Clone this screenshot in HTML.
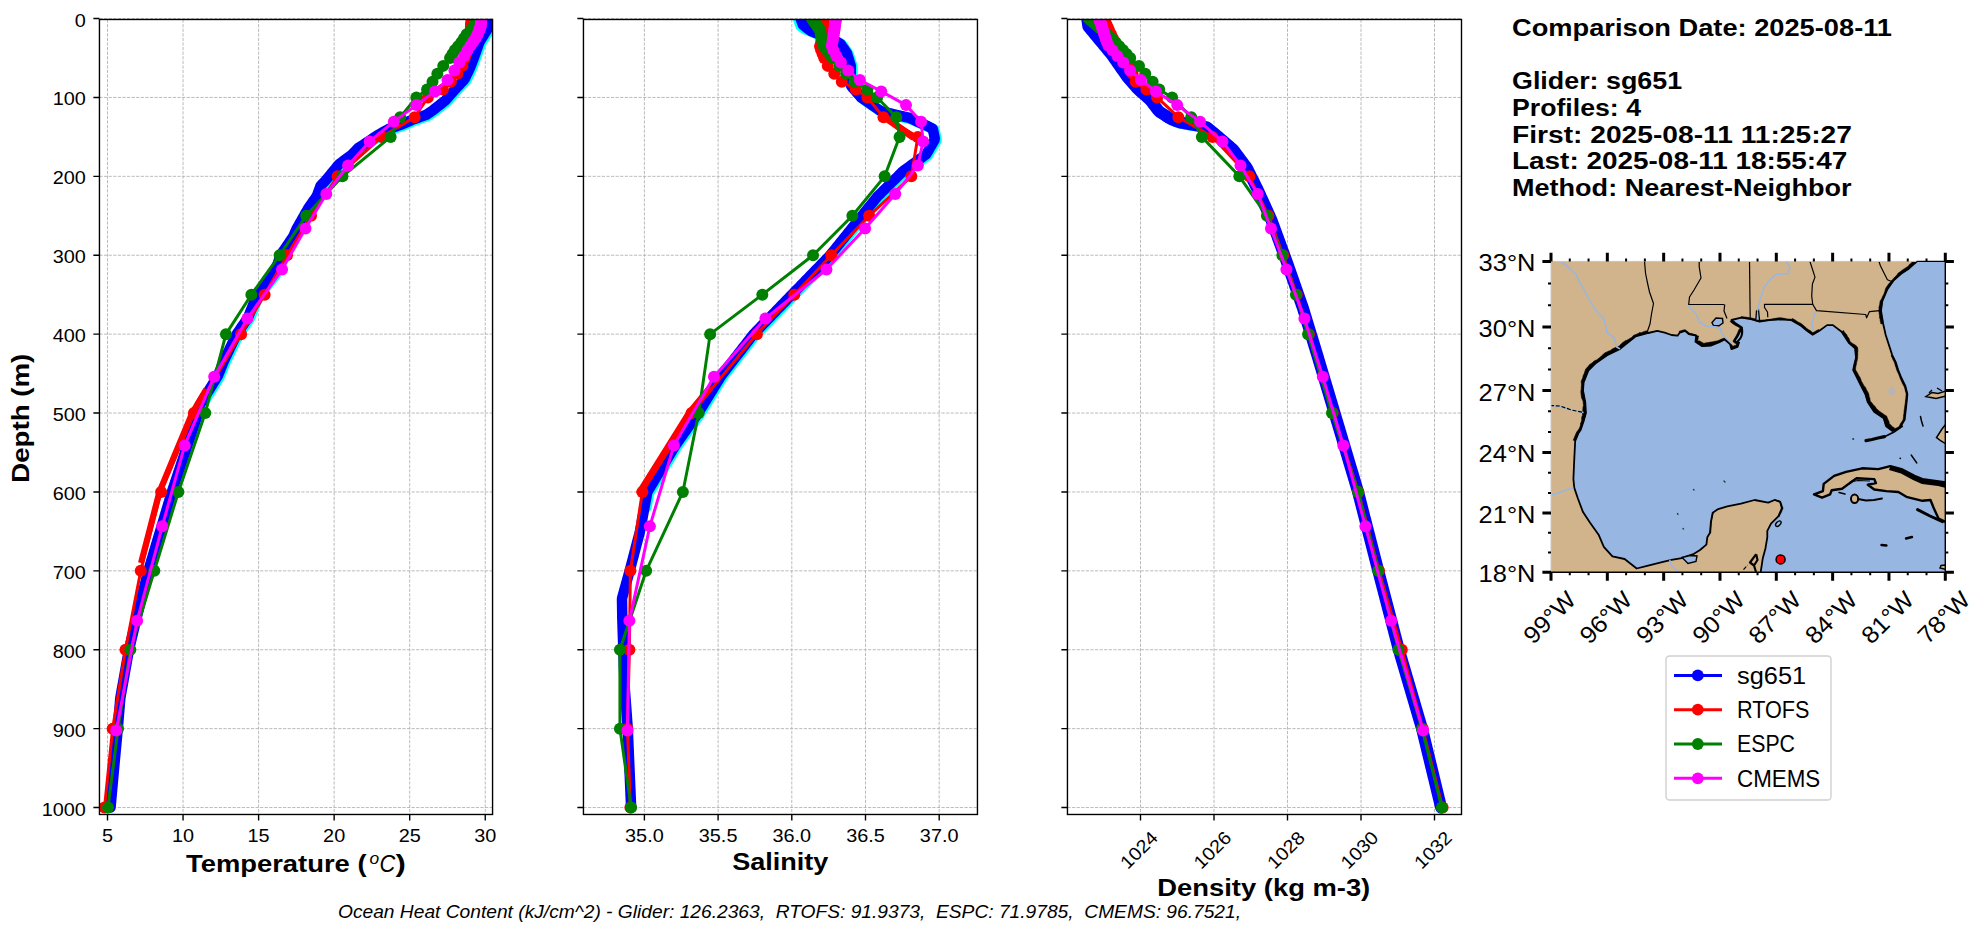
<!DOCTYPE html><html><head><meta charset="utf-8"><style>html,body{margin:0;padding:0;background:#fff;overflow:hidden}svg{display:block}text{font-family:"Liberation Sans",sans-serif}</style></head><body>
<svg width="1987" height="934" viewBox="0 0 1987 934">
<rect width="1987" height="934" fill="#fff"/>
<defs><clipPath id="clip0"><rect x="99.45" y="19.48" width="393.11" height="795.00"/></clipPath><clipPath id="clip1"><rect x="583.45" y="19.48" width="394.00" height="795.00"/></clipPath><clipPath id="clip2"><rect x="1067.45" y="19.48" width="394.05" height="795.00"/></clipPath></defs>
<path d="M99.45 18.54H492.56 M99.45 97.44H492.56 M99.45 176.34H492.56 M99.45 255.24H492.56 M99.45 334.14H492.56 M99.45 413.04H492.56 M99.45 491.94H492.56 M99.45 570.84H492.56 M99.45 649.74H492.56 M99.45 728.64H492.56 M99.45 807.54H492.56 M107.50 19.48V814.48 M183.05 19.48V814.48 M258.60 19.48V814.48 M334.15 19.48V814.48 M409.70 19.48V814.48 M485.25 19.48V814.48" stroke="#b0b0b0" stroke-width="0.87" stroke-dasharray="3.2 1.39" fill="none"/>
<path d="M583.45 18.54H977.45 M583.45 97.44H977.45 M583.45 176.34H977.45 M583.45 255.24H977.45 M583.45 334.14H977.45 M583.45 413.04H977.45 M583.45 491.94H977.45 M583.45 570.84H977.45 M583.45 649.74H977.45 M583.45 728.64H977.45 M583.45 807.54H977.45 M644.40 19.48V814.48 M718.10 19.48V814.48 M791.80 19.48V814.48 M865.50 19.48V814.48 M939.20 19.48V814.48" stroke="#b0b0b0" stroke-width="0.87" stroke-dasharray="3.2 1.39" fill="none"/>
<path d="M1067.45 18.54H1461.50 M1067.45 97.44H1461.50 M1067.45 176.34H1461.50 M1067.45 255.24H1461.50 M1067.45 334.14H1461.50 M1067.45 413.04H1461.50 M1067.45 491.94H1461.50 M1067.45 570.84H1461.50 M1067.45 649.74H1461.50 M1067.45 728.64H1461.50 M1067.45 807.54H1461.50 M1140.50 19.48V814.48 M1214.00 19.48V814.48 M1287.50 19.48V814.48 M1361.00 19.48V814.48 M1434.50 19.48V814.48" stroke="#b0b0b0" stroke-width="0.87" stroke-dasharray="3.2 1.39" fill="none"/>
<g clip-path="url(#clip0)">
<path d="M490.07 19.54 L489.93 21.12 L489.80 22.70 L489.66 24.27 L489.52 25.85 L489.38 27.43 L489.24 29.01 L488.67 30.59 L487.68 32.16 L486.70 33.74 L485.71 35.32 L484.72 36.90 L483.73 38.48 L482.74 40.05 L481.75 41.63 L480.87 43.21 L480.31 44.79 L479.75 46.37 L479.19 47.94 L478.63 49.52 L478.07 51.10 L477.51 52.68 L476.95 54.26 L476.39 55.83 L475.83 57.41 L475.27 58.99 L474.66 60.57 L474.06 62.15 L473.45 63.72 L472.85 65.30 L472.24 66.88 L471.64 68.46 L470.96 70.04 L470.20 71.61 L469.45 73.19 L468.69 74.77 L467.94 76.35 L467.18 77.93 L466.43 79.50 L465.31 81.08 L463.82 82.66 L462.33 84.24 L460.84 85.82 L459.35 87.39 L457.87 88.97 L456.38 90.55 L455.00 92.13 L453.62 93.71 L452.23 95.28 L450.85 96.86 L449.47 98.44 L448.09 100.02 L446.71 101.60 L444.69 103.17 L442.66 104.75 L440.64 106.33 L438.62 107.91 L436.60 109.49 L434.58 111.06 L432.49 112.64 L430.16 114.22 L427.82 115.80 L423.29 117.38 L418.75 118.95 L414.22 120.53 L410.70 122.11 L407.17 123.69 L403.64 125.27 L399.11 126.84 L394.58 128.42 L390.05 130.00 L387.23 131.58 L384.40 133.16 L381.58 134.73 L378.88 136.31 L376.52 137.89 L374.16 139.47 L371.80 141.05 L369.44 142.62 L367.08 144.20 L364.66 145.78 L362.24 147.36 L359.83 148.94 L358.31 150.51 L356.80 152.09 L355.29 153.67 L353.78 155.25 L351.69 156.83 L349.60 158.40 L347.51 159.98 L345.41 161.56 L343.32 163.14 L341.23 164.72 L339.54 166.29 L338.26 167.87 L336.97 169.45 L335.69 171.03 L334.40 172.61 L333.12 174.18 L331.83 175.76 L330.55 177.34 L329.27 178.92 L327.98 180.50 L326.58 182.07 L325.07 183.65 L323.56 185.23 L322.05 186.81 L321.47 188.39 L320.89 189.96 L320.31 191.54 L319.73 193.12 L319.15 194.70 L318.56 196.28 L317.72 197.85 L316.61 199.43 L315.50 201.01 L314.40 202.59 L313.29 204.17 L312.18 205.74 L311.07 207.32 L309.96 208.90 L309.07 210.48 L308.17 212.06 L307.28 213.63 L306.38 215.21 L305.49 216.79 L304.59 218.37 L303.70 219.95 L302.80 221.52 L301.90 223.10 L301.01 224.68 L300.11 226.26 L299.22 227.84 L298.32 229.41 L297.54 230.99 L296.87 232.57 L296.20 234.15 L295.52 235.73 L294.85 237.30 L293.78 238.88 L292.71 240.46 L291.64 242.04 L290.57 243.62 L289.50 245.19 L288.43 246.77 L287.36 248.35 L286.29 249.93 L285.22 251.51 L284.15 253.08 L283.08 254.66 L282.01 256.24 L281.48 257.82 L280.96 259.40 L280.43 260.97 L279.91 262.55 L279.38 264.13 L278.86 265.71 L278.33 267.29 L277.80 268.86 L277.28 270.44 L276.75 272.02 L276.23 273.60 L275.32 275.18 L274.03 276.75 L272.75 278.33 L271.46 279.91 L270.17 281.49 L268.89 283.07 L267.60 284.64 L266.31 286.22 L265.02 287.80 L263.74 289.38 L262.45 290.96 L261.16 292.53 L259.88 294.11 L258.59 295.69 L257.96 297.27 L257.34 298.85 L256.71 300.42 L256.09 302.00 L255.46 303.58 L254.84 305.16 L254.21 306.74 L253.59 308.31 L252.96 309.89 L252.34 311.47 L251.71 313.05 L251.09 314.63 L250.46 316.20 L249.84 317.78 L248.98 319.36 L247.90 320.94 L246.82 322.52 L245.75 324.09 L244.67 325.67 L243.59 327.25 L242.51 328.83 L241.43 330.41 L240.35 331.98 L239.27 333.56 L238.19 335.14 L237.44 336.72 L236.68 338.30 L235.92 339.87 L235.17 341.45 L234.41 343.03 L233.66 344.61 L232.90 346.19 L232.15 347.76 L231.39 349.34 L230.64 350.92 L229.88 352.50 L229.12 354.08 L228.37 355.65 L227.61 357.23 L226.86 358.81 L226.10 360.39 L225.35 361.97 L224.71 363.54 L224.07 365.12 L223.44 366.70 L222.80 368.28 L222.17 369.86 L221.53 371.43 L220.89 373.01 L220.26 374.59 L219.62 376.17 L218.81 377.75 L217.83 379.32 L216.85 380.90 L215.87 382.48 L214.89 384.06 L213.91 385.64 L212.93 387.21 L211.95 388.79 L210.97 390.37 L209.99 391.95 L209.01 393.53 L208.03 395.10 L207.05 396.68 L206.07 398.26 L205.09 399.84 L204.11 401.42 L203.13 402.99 L202.15 404.57 L201.17 406.15 L200.87 407.73 L200.57 409.31 L200.26 410.88 L199.96 412.46 L199.66 414.04 L199.13 415.62 L198.61 417.20 L198.08 418.77 L197.56 420.35 L197.03 421.93 L196.51 423.51 L195.98 425.09 L195.45 426.66 L194.93 428.24 L194.40 429.82 L193.88 431.40 L193.35 432.98 L192.82 434.55 L192.30 436.13 L191.77 437.71 L191.25 439.29 L190.72 440.87 L190.20 442.44 L189.67 444.02 L189.14 445.60 L188.62 447.18 L188.09 448.76 L187.57 450.33 L187.04 451.91 L186.51 453.49 L185.99 455.07 L185.46 456.65 L184.94 458.22 L184.41 459.80 L183.89 461.38 L183.36 462.96 L182.83 464.54 L182.31 466.11 L181.78 467.69 L181.26 469.27 L180.73 470.85 L180.20 472.43 L179.68 474.00 L179.15 475.58 L178.63 477.16 L178.10 478.74 L177.58 480.32 L177.05 481.89 L176.52 483.47 L176.00 485.05 L175.47 486.63 L174.95 488.21 L174.42 489.78 L173.89 491.36 L173.37 492.94 L172.90 494.52 L172.43 496.10 L171.95 497.67 L171.48 499.25 L171.01 500.83 L170.54 502.41 L170.07 503.99 L169.60 505.56 L169.13 507.14" stroke="#00ffff" stroke-width="11" fill="none" stroke-linejoin="round" stroke-linecap="round"/>
<path d="M488.57 18.54 L488.43 20.12 L488.30 21.70 L488.16 23.27 L488.02 24.85 L487.88 26.43 L487.74 28.01 L487.17 29.59 L486.18 31.16 L485.20 32.74 L484.21 34.32 L483.22 35.90 L482.23 37.48 L481.24 39.05 L480.25 40.63 L479.37 42.21 L478.81 43.79 L478.25 45.37 L477.69 46.94 L477.13 48.52 L476.57 50.10 L476.01 51.68 L475.45 53.26 L474.89 54.83 L474.33 56.41 L473.77 57.99 L473.16 59.57 L472.56 61.15 L471.95 62.72 L471.35 64.30 L470.74 65.88 L470.14 67.46 L469.46 69.04 L468.70 70.61 L467.95 72.19 L467.19 73.77 L466.44 75.35 L465.68 76.93 L464.93 78.50 L463.81 80.08 L462.32 81.66 L460.83 83.24 L459.34 84.82 L457.85 86.39 L456.37 87.97 L454.88 89.55 L453.50 91.13 L452.12 92.71 L450.73 94.28 L449.35 95.86 L447.97 97.44 L446.59 99.02 L445.21 100.60 L443.19 102.17 L441.16 103.75 L439.14 105.33 L437.12 106.91 L435.10 108.49 L433.08 110.06 L430.99 111.64 L428.66 113.22 L426.32 114.80 L421.79 116.38 L417.25 117.95 L412.72 119.53 L409.20 121.11 L405.67 122.69 L402.14 124.27 L397.61 125.84 L393.08 127.42 L388.55 129.00 L385.73 130.58 L382.90 132.16 L380.08 133.73 L377.38 135.31 L375.02 136.89 L372.66 138.47 L370.30 140.05 L367.94 141.62 L365.58 143.20 L363.16 144.78 L360.74 146.36 L358.33 147.94 L356.81 149.51 L355.30 151.09 L353.79 152.67 L352.28 154.25 L350.19 155.83 L348.10 157.40 L346.01 158.98 L343.91 160.56 L341.82 162.14 L339.73 163.72 L338.04 165.29 L336.76 166.87 L335.47 168.45 L334.19 170.03 L332.90 171.61 L331.62 173.18 L330.33 174.76 L329.05 176.34 L327.77 177.92 L326.48 179.50 L325.08 181.07 L323.57 182.65 L322.06 184.23 L320.55 185.81 L319.97 187.39 L319.39 188.96 L318.81 190.54 L318.23 192.12 L317.65 193.70 L317.06 195.28 L316.22 196.85 L315.11 198.43 L314.00 200.01 L312.90 201.59 L311.79 203.17 L310.68 204.74 L309.57 206.32 L308.46 207.90 L307.57 209.48 L306.67 211.06 L305.78 212.63 L304.88 214.21 L303.99 215.79 L303.09 217.37 L302.20 218.95 L301.30 220.52 L300.40 222.10 L299.51 223.68 L298.61 225.26 L297.72 226.84 L296.82 228.41 L296.04 229.99 L295.37 231.57 L294.70 233.15 L294.02 234.73 L293.35 236.30 L292.28 237.88 L291.21 239.46 L290.14 241.04 L289.07 242.62 L288.00 244.19 L286.93 245.77 L285.86 247.35 L284.79 248.93 L283.72 250.51 L282.65 252.08 L281.58 253.66 L280.51 255.24 L279.98 256.82 L279.46 258.40 L278.93 259.97 L278.41 261.55 L277.88 263.13 L277.36 264.71 L276.83 266.29 L276.30 267.86 L275.78 269.44 L275.25 271.02 L274.73 272.60 L273.82 274.18 L272.53 275.75 L271.25 277.33 L269.96 278.91 L268.67 280.49 L267.39 282.07 L266.10 283.64 L264.81 285.22 L263.52 286.80 L262.24 288.38 L260.95 289.96 L259.66 291.53 L258.38 293.11 L257.09 294.69 L256.46 296.27 L255.84 297.85 L255.21 299.42 L254.59 301.00 L253.96 302.58 L253.34 304.16 L252.71 305.74 L252.09 307.31 L251.46 308.89 L250.84 310.47 L250.21 312.05 L249.59 313.63 L248.96 315.20 L248.34 316.78 L247.48 318.36 L246.40 319.94 L245.32 321.52 L244.25 323.09 L243.17 324.67 L242.09 326.25 L241.01 327.83 L239.93 329.41 L238.85 330.98 L237.77 332.56 L236.69 334.14 L235.94 335.72 L235.18 337.30 L234.42 338.87 L233.67 340.45 L232.91 342.03 L232.16 343.61 L231.40 345.19 L230.65 346.76 L229.89 348.34 L229.14 349.92 L228.38 351.50 L227.62 353.08 L226.87 354.65 L226.11 356.23 L225.36 357.81 L224.60 359.39 L223.85 360.97 L223.21 362.54 L222.57 364.12 L221.94 365.70 L221.30 367.28 L220.67 368.86 L220.03 370.43 L219.39 372.01 L218.76 373.59 L218.12 375.17 L217.31 376.75 L216.33 378.32 L215.35 379.90 L214.37 381.48 L213.39 383.06 L212.41 384.64 L211.43 386.21 L210.45 387.79 L209.47 389.37 L208.49 390.95 L207.51 392.53 L206.53 394.10 L205.55 395.68 L204.57 397.26 L203.59 398.84 L202.61 400.42 L201.63 401.99 L200.65 403.57 L199.67 405.15 L199.37 406.73 L199.07 408.31 L198.76 409.88 L198.46 411.46 L198.16 413.04 L197.63 414.62 L197.11 416.20 L196.58 417.77 L196.06 419.35 L195.53 420.93 L195.01 422.51 L194.48 424.09 L193.95 425.66 L193.43 427.24 L192.90 428.82 L192.38 430.40 L191.85 431.98 L191.32 433.55 L190.80 435.13 L190.27 436.71 L189.75 438.29 L189.22 439.87 L188.70 441.44 L188.17 443.02 L187.64 444.60 L187.12 446.18 L186.59 447.76 L186.07 449.33 L185.54 450.91 L185.01 452.49 L184.49 454.07 L183.96 455.65 L183.44 457.22 L182.91 458.80 L182.39 460.38 L181.86 461.96 L181.33 463.54 L180.81 465.11 L180.28 466.69 L179.76 468.27 L179.23 469.85 L178.70 471.43 L178.18 473.00 L177.65 474.58 L177.13 476.16 L176.60 477.74 L176.08 479.32 L175.55 480.89 L175.02 482.47 L174.50 484.05 L173.97 485.63 L173.45 487.21 L172.92 488.78 L172.39 490.36 L171.87 491.94 L171.40 493.52 L170.93 495.10 L170.45 496.67 L169.98 498.25 L169.51 499.83 L169.04 501.41 L168.57 502.99 L168.10 504.56 L167.63 506.14 L167.15 507.72 L166.68 509.30 L166.21 510.88 L165.74 512.45 L165.27 514.03 L164.80 515.61 L164.33 517.19 L163.85 518.77 L163.38 520.34 L162.91 521.92 L162.44 523.50 L161.97 525.08 L161.50 526.66 L161.03 528.23 L160.55 529.81 L160.08 531.39 L159.61 532.97 L159.14 534.55 L158.67 536.12 L158.20 537.70 L157.73 539.28 L157.25 540.86 L156.78 542.44 L156.31 544.01 L155.84 545.59 L155.37 547.17 L154.90 548.75 L154.43 550.33 L153.95 551.90 L153.48 553.48 L153.01 555.06 L152.54 556.64 L152.07 558.22 L151.60 559.79 L151.13 561.37 L150.65 562.95 L150.18 564.53 L149.71 566.11 L149.24 567.68 L148.77 569.26 L148.30 570.84 L147.90 572.42 L147.51 574.00 L147.12 575.57 L146.73 577.15 L146.33 578.73 L145.94 580.31 L145.55 581.89 L145.15 583.46 L144.76 585.04 L144.37 586.62 L143.98 588.20 L143.58 589.78 L143.19 591.35 L142.80 592.93 L142.40 594.51 L142.01 596.09 L141.62 597.67 L141.23 599.24 L140.83 600.82 L140.44 602.40 L140.05 603.98 L139.65 605.56 L139.26 607.13 L138.87 608.71 L138.48 610.29 L138.08 611.87 L137.69 613.45 L137.30 615.02 L136.90 616.60 L136.51 618.18 L136.13 619.76 L135.76 621.34 L135.38 622.91 L135.00 624.49 L134.62 626.07 L134.24 627.65 L133.87 629.23 L133.49 630.80 L133.11 632.38 L132.73 633.96 L132.36 635.54 L131.98 637.12 L131.60 638.69 L131.22 640.27 L130.84 641.85 L130.47 643.43 L130.09 645.01 L129.71 646.58 L129.33 648.16 L128.96 649.74 L128.67 651.32 L128.39 652.90 L128.11 654.47 L127.83 656.05 L127.54 657.63 L127.26 659.21 L126.98 660.79 L126.70 662.36 L126.41 663.94 L126.13 665.52 L125.85 667.10 L125.57 668.68 L125.29 670.25 L125.00 671.83 L124.72 673.41 L124.44 674.99 L124.16 676.57 L123.87 678.14 L123.59 679.72 L123.31 681.30 L123.03 682.88 L122.74 684.46 L122.46 686.03 L122.18 687.61 L121.90 689.19 L121.61 690.77 L121.33 692.35 L121.05 693.92 L120.77 695.50 L120.48 697.08 L120.28 698.66 L120.15 700.24 L120.01 701.81 L119.88 703.39 L119.75 704.97 L119.62 706.55 L119.49 708.13 L119.36 709.70 L119.22 711.28 L119.09 712.86 L118.96 714.44 L118.83 716.02 L118.70 717.59 L118.57 719.17 L118.43 720.75 L118.30 722.33 L118.17 723.91 L118.04 725.48 L117.91 727.06 L117.77 728.64 L117.63 730.22 L117.48 731.80 L117.33 733.37 L117.18 734.95 L117.04 736.53 L116.89 738.11 L116.74 739.69 L116.59 741.26 L116.44 742.84 L116.30 744.42 L116.15 746.00 L116.00 747.58 L115.85 749.15 L115.70 750.73 L115.56 752.31 L115.41 753.89 L115.26 755.47 L115.11 757.04 L114.96 758.62 L114.82 760.20 L114.67 761.78 L114.52 763.36 L114.37 764.93 L114.23 766.51 L114.09 768.09 L113.94 769.67 L113.80 771.25 L113.66 772.82 L113.52 774.40 L113.37 775.98 L113.23 777.56 L113.09 779.14 L112.95 780.71 L112.80 782.29 L112.66 783.87 L112.52 785.45 L112.38 787.03 L112.23 788.60 L112.09 790.18 L111.95 791.76 L111.80 793.34 L111.66 794.92 L111.52 796.49 L111.38 798.07 L111.23 799.65 L111.09 801.23 L110.95 802.81 L110.81 804.38 L110.66 805.96 L110.52 807.54" stroke="#0000ff" stroke-width="10.5" fill="none" stroke-linejoin="round" stroke-linecap="round"/>
<path d="M206.26 389.37 L192.12 413.04 L175.72 452.49 L159.33 491.94 L149.13 531.39 L140.97 562.95" stroke="#ff0000" stroke-width="6" fill="none" stroke-linejoin="round"/>
<path d="M471.80 18.54 L471.64 20.12 L471.47 21.70 L471.30 23.27 L471.14 24.85 L470.97 26.43 L470.80 28.01 L470.56 30.38 L470.14 34.32 L469.38 38.27 L468.63 42.21 L467.87 46.16 L467.12 50.10 L465.95 54.05 L464.78 57.99 L462.43 65.88 L457.40 73.77 L450.90 81.66 L442.94 89.55 L427.83 97.44 L414.69 117.16 L381.75 136.89 L337.63 176.34 L311.03 215.79 L287.01 255.24 L264.64 294.69 L241.07 334.14 L193.93 413.04 L161.14 491.94 L140.74 570.84 L125.48 649.74 L112.64 728.64 L104.48 807.54" stroke="#ff0000" stroke-width="3.0" fill="none" stroke-linejoin="round"/>
<circle cx="471.80" cy="18.54" r="6.0" fill="#ff0000"/><circle cx="471.64" cy="20.12" r="6.0" fill="#ff0000"/><circle cx="471.47" cy="21.70" r="6.0" fill="#ff0000"/><circle cx="471.30" cy="23.27" r="6.0" fill="#ff0000"/><circle cx="471.14" cy="24.85" r="6.0" fill="#ff0000"/><circle cx="470.97" cy="26.43" r="6.0" fill="#ff0000"/><circle cx="470.80" cy="28.01" r="6.0" fill="#ff0000"/><circle cx="470.56" cy="30.38" r="6.0" fill="#ff0000"/><circle cx="470.14" cy="34.32" r="6.0" fill="#ff0000"/><circle cx="469.38" cy="38.27" r="6.0" fill="#ff0000"/><circle cx="468.63" cy="42.21" r="6.0" fill="#ff0000"/><circle cx="467.87" cy="46.16" r="6.0" fill="#ff0000"/><circle cx="467.12" cy="50.10" r="6.0" fill="#ff0000"/><circle cx="465.95" cy="54.05" r="6.0" fill="#ff0000"/><circle cx="464.78" cy="57.99" r="6.0" fill="#ff0000"/><circle cx="462.43" cy="65.88" r="6.0" fill="#ff0000"/><circle cx="457.40" cy="73.77" r="6.0" fill="#ff0000"/><circle cx="450.90" cy="81.66" r="6.0" fill="#ff0000"/><circle cx="442.94" cy="89.55" r="6.0" fill="#ff0000"/><circle cx="427.83" cy="97.44" r="6.0" fill="#ff0000"/><circle cx="414.69" cy="117.16" r="6.0" fill="#ff0000"/><circle cx="381.75" cy="136.89" r="6.0" fill="#ff0000"/><circle cx="337.63" cy="176.34" r="6.0" fill="#ff0000"/><circle cx="311.03" cy="215.79" r="6.0" fill="#ff0000"/><circle cx="287.01" cy="255.24" r="6.0" fill="#ff0000"/><circle cx="264.64" cy="294.69" r="6.0" fill="#ff0000"/><circle cx="241.07" cy="334.14" r="6.0" fill="#ff0000"/><circle cx="193.93" cy="413.04" r="6.0" fill="#ff0000"/><circle cx="161.14" cy="491.94" r="6.0" fill="#ff0000"/><circle cx="140.74" cy="570.84" r="6.0" fill="#ff0000"/><circle cx="125.48" cy="649.74" r="6.0" fill="#ff0000"/><circle cx="112.64" cy="728.64" r="6.0" fill="#ff0000"/><circle cx="104.48" cy="807.54" r="6.0" fill="#ff0000"/>
<path d="M476.94 18.54 L476.56 20.12 L476.18 21.70 L475.81 23.27 L475.43 24.85 L474.13 26.43 L472.84 28.01 L470.90 30.38 L466.66 34.32 L464.02 38.27 L461.38 42.21 L458.13 46.16 L454.88 50.10 L452.46 54.05 L450.04 57.99 L443.24 65.88 L437.35 73.77 L432.52 81.66 L427.08 89.55 L416.35 97.44 L400.18 117.16 L390.66 136.89 L342.46 176.34 L306.20 215.79 L279.60 255.24 L251.35 294.69 L225.96 334.14 L205.26 413.04 L178.37 491.94 L154.34 570.84 L130.32 649.74 L118.08 728.64 L107.95 807.54" stroke="#008000" stroke-width="3.0" fill="none" stroke-linejoin="round"/>
<circle cx="476.94" cy="18.54" r="6.0" fill="#008000"/><circle cx="476.56" cy="20.12" r="6.0" fill="#008000"/><circle cx="476.18" cy="21.70" r="6.0" fill="#008000"/><circle cx="475.81" cy="23.27" r="6.0" fill="#008000"/><circle cx="475.43" cy="24.85" r="6.0" fill="#008000"/><circle cx="474.13" cy="26.43" r="6.0" fill="#008000"/><circle cx="472.84" cy="28.01" r="6.0" fill="#008000"/><circle cx="470.90" cy="30.38" r="6.0" fill="#008000"/><circle cx="466.66" cy="34.32" r="6.0" fill="#008000"/><circle cx="464.02" cy="38.27" r="6.0" fill="#008000"/><circle cx="461.38" cy="42.21" r="6.0" fill="#008000"/><circle cx="458.13" cy="46.16" r="6.0" fill="#008000"/><circle cx="454.88" cy="50.10" r="6.0" fill="#008000"/><circle cx="452.46" cy="54.05" r="6.0" fill="#008000"/><circle cx="450.04" cy="57.99" r="6.0" fill="#008000"/><circle cx="443.24" cy="65.88" r="6.0" fill="#008000"/><circle cx="437.35" cy="73.77" r="6.0" fill="#008000"/><circle cx="432.52" cy="81.66" r="6.0" fill="#008000"/><circle cx="427.08" cy="89.55" r="6.0" fill="#008000"/><circle cx="416.35" cy="97.44" r="6.0" fill="#008000"/><circle cx="400.18" cy="117.16" r="6.0" fill="#008000"/><circle cx="390.66" cy="136.89" r="6.0" fill="#008000"/><circle cx="342.46" cy="176.34" r="6.0" fill="#008000"/><circle cx="306.20" cy="215.79" r="6.0" fill="#008000"/><circle cx="279.60" cy="255.24" r="6.0" fill="#008000"/><circle cx="251.35" cy="294.69" r="6.0" fill="#008000"/><circle cx="225.96" cy="334.14" r="6.0" fill="#008000"/><circle cx="205.26" cy="413.04" r="6.0" fill="#008000"/><circle cx="178.37" cy="491.94" r="6.0" fill="#008000"/><circle cx="154.34" cy="570.84" r="6.0" fill="#008000"/><circle cx="130.32" cy="649.74" r="6.0" fill="#008000"/><circle cx="118.08" cy="728.64" r="6.0" fill="#008000"/><circle cx="107.95" cy="807.54" r="6.0" fill="#008000"/>
<path d="M481.17 18.93 L481.11 19.76 L481.04 20.63 L480.98 21.55 L480.90 22.55 L480.82 23.62 L480.73 24.80 L480.64 26.09 L480.37 27.53 L479.68 29.17 L478.90 31.01 L478.01 33.14 L476.98 35.58 L475.52 38.43 L473.20 41.77 L470.46 45.71 L467.44 50.37 L464.11 55.91 L459.28 62.53 L454.42 70.46 L447.47 79.96 L435.08 91.39 L416.35 105.12 L393.83 121.64 L369.66 141.51 L348.05 165.40 L326.29 194.08 L305.44 228.45 L282.02 269.54 L247.42 318.53 L214.18 376.70 L184.71 445.46 L162.20 526.32 L137.12 620.81 L116.26 730.49" stroke="#ff00ff" stroke-width="3.0" fill="none" stroke-linejoin="round"/>
<circle cx="481.17" cy="18.93" r="6.0" fill="#ff00ff"/><circle cx="481.11" cy="19.76" r="6.0" fill="#ff00ff"/><circle cx="481.04" cy="20.63" r="6.0" fill="#ff00ff"/><circle cx="480.98" cy="21.55" r="6.0" fill="#ff00ff"/><circle cx="480.90" cy="22.55" r="6.0" fill="#ff00ff"/><circle cx="480.82" cy="23.62" r="6.0" fill="#ff00ff"/><circle cx="480.73" cy="24.80" r="6.0" fill="#ff00ff"/><circle cx="480.64" cy="26.09" r="6.0" fill="#ff00ff"/><circle cx="480.37" cy="27.53" r="6.0" fill="#ff00ff"/><circle cx="479.68" cy="29.17" r="6.0" fill="#ff00ff"/><circle cx="478.90" cy="31.01" r="6.0" fill="#ff00ff"/><circle cx="478.01" cy="33.14" r="6.0" fill="#ff00ff"/><circle cx="476.98" cy="35.58" r="6.0" fill="#ff00ff"/><circle cx="475.52" cy="38.43" r="6.0" fill="#ff00ff"/><circle cx="473.20" cy="41.77" r="6.0" fill="#ff00ff"/><circle cx="470.46" cy="45.71" r="6.0" fill="#ff00ff"/><circle cx="467.44" cy="50.37" r="6.0" fill="#ff00ff"/><circle cx="464.11" cy="55.91" r="6.0" fill="#ff00ff"/><circle cx="459.28" cy="62.53" r="6.0" fill="#ff00ff"/><circle cx="454.42" cy="70.46" r="6.0" fill="#ff00ff"/><circle cx="447.47" cy="79.96" r="6.0" fill="#ff00ff"/><circle cx="435.08" cy="91.39" r="6.0" fill="#ff00ff"/><circle cx="416.35" cy="105.12" r="6.0" fill="#ff00ff"/><circle cx="393.83" cy="121.64" r="6.0" fill="#ff00ff"/><circle cx="369.66" cy="141.51" r="6.0" fill="#ff00ff"/><circle cx="348.05" cy="165.40" r="6.0" fill="#ff00ff"/><circle cx="326.29" cy="194.08" r="6.0" fill="#ff00ff"/><circle cx="305.44" cy="228.45" r="6.0" fill="#ff00ff"/><circle cx="282.02" cy="269.54" r="6.0" fill="#ff00ff"/><circle cx="247.42" cy="318.53" r="6.0" fill="#ff00ff"/><circle cx="214.18" cy="376.70" r="6.0" fill="#ff00ff"/><circle cx="184.71" cy="445.46" r="6.0" fill="#ff00ff"/><circle cx="162.20" cy="526.32" r="6.0" fill="#ff00ff"/><circle cx="137.12" cy="620.81" r="6.0" fill="#ff00ff"/><circle cx="116.26" cy="730.49" r="6.0" fill="#ff00ff"/>
</g>
<g clip-path="url(#clip1)">
<path d="M798.64 19.54 L799.20 21.12 L799.75 22.70 L800.30 24.27 L800.86 25.85 L802.88 27.43 L804.91 29.01 L810.44 30.59 L812.46 32.16 L816.88 33.74 L821.31 35.32 L825.73 36.90 L830.15 38.48 L833.10 40.05 L836.05 41.63 L838.99 43.21 L841.94 44.79 L843.02 46.37 L844.10 47.94 L845.18 49.52 L846.27 51.10 L847.35 52.68 L848.43 54.26 L848.91 55.83 L849.39 57.41 L849.86 58.99 L850.34 60.57 L850.82 62.15 L851.30 63.72 L851.78 65.30 L852.26 66.88 L852.26 68.46 L852.26 70.04 L852.26 71.61 L852.26 73.19 L852.26 74.77 L852.26 76.35 L852.26 77.93 L852.26 79.50 L852.26 81.08 L852.26 82.66 L852.26 84.24 L852.26 85.82 L852.95 87.39 L854.32 88.97 L855.70 90.55 L857.08 92.13 L858.45 93.71 L859.83 95.28 L861.20 96.86 L862.58 98.44 L864.79 100.02 L867.00 101.60 L869.30 103.17 L871.60 104.75 L873.91 106.33 L876.21 107.91 L878.51 109.49 L880.81 111.06 L883.80 112.64 L890.68 114.22 L897.56 115.80 L904.44 117.38 L910.98 118.95 L914.45 120.53 L917.91 122.11 L921.38 123.69 L924.85 125.27 L928.32 126.84 L931.79 128.42 L934.31 130.00 L934.64 131.58 L934.96 133.16 L935.29 134.73 L935.61 136.31 L935.94 137.89 L936.26 139.47 L935.97 141.05 L935.05 142.62 L934.14 144.20 L933.22 145.78 L932.31 147.36 L931.39 148.94 L930.48 150.51 L929.56 152.09 L928.64 153.67 L927.73 155.25 L925.56 156.83 L923.39 158.40 L921.22 159.98 L919.05 161.56 L916.88 163.14 L914.71 164.72 L912.54 166.29 L910.37 167.87 L908.20 169.45 L906.03 171.03 L903.98 172.61 L902.39 174.18 L900.81 175.76 L899.23 177.34 L897.64 178.92 L896.06 180.50 L894.48 182.07 L892.89 183.65 L891.31 185.23 L889.73 186.81 L888.14 188.39 L886.56 189.96 L884.98 191.54 L883.39 193.12 L881.81 194.70 L880.23 196.28 L878.64 197.85 L877.37 199.43 L876.10 201.01 L874.83 202.59 L873.56 204.17 L872.29 205.74 L871.02 207.32 L869.75 208.90 L868.48 210.48 L867.21 212.06 L865.94 213.63 L864.67 215.21 L863.39 216.79 L862.12 218.37 L860.85 219.95 L859.58 221.52 L858.31 223.10 L857.04 224.68 L855.77 226.26 L854.50 227.84 L853.23 229.41 L851.96 230.99 L850.69 232.57 L849.42 234.15 L848.14 235.73 L846.87 237.30 L845.60 238.88 L844.33 240.46 L843.06 242.04 L841.79 243.62 L840.52 245.19 L839.25 246.77 L837.98 248.35 L836.71 249.93 L835.44 251.51 L834.17 253.08 L832.89 254.66 L831.62 256.24 L830.09 257.82 L828.56 259.40 L827.03 260.97 L825.49 262.55 L823.96 264.13 L822.43 265.71 L820.89 267.29 L819.36 268.86 L817.83 270.44 L816.29 272.02 L814.76 273.60 L813.23 275.18 L811.70 276.75 L810.16 278.33 L808.63 279.91 L807.10 281.49 L805.56 283.07 L804.03 284.64 L802.50 286.22 L800.96 287.80 L799.43 289.38 L797.90 290.96 L796.37 292.53 L794.83 294.11 L793.30 295.69 L791.77 297.27 L790.23 298.85 L788.70 300.42 L787.17 302.00 L785.64 303.58 L784.10 305.16 L782.57 306.74 L781.04 308.31 L779.50 309.89 L777.97 311.47 L776.44 313.05 L774.90 314.63 L773.37 316.20 L771.84 317.78 L770.31 319.36 L768.77 320.94 L767.24 322.52 L765.71 324.09 L764.17 325.67 L762.64 327.25 L761.11 328.83 L759.57 330.41 L758.04 331.98 L756.51 333.56 L754.98 335.14 L753.75 336.72 L752.53 338.30 L751.30 339.87 L750.08 341.45 L748.86 343.03 L747.63 344.61 L746.41 346.19 L745.19 347.76 L743.96 349.34 L742.74 350.92 L741.52 352.50 L740.29 354.08 L739.07 355.65 L737.84 357.23 L736.62 358.81 L735.40 360.39 L734.17 361.97 L732.95 363.54 L731.73 365.12 L730.50 366.70 L729.28 368.28 L728.05 369.86 L726.83 371.43 L725.61 373.01 L724.38 374.59 L723.16 376.17 L722.06 377.75 L721.09 379.32 L720.12 380.90 L719.15 382.48 L718.17 384.06 L717.20 385.64 L716.23 387.21 L715.26 388.79 L714.28 390.37 L713.31 391.95 L712.34 393.53 L711.37 395.10 L710.40 396.68 L709.42 398.26 L708.45 399.84 L707.48 401.42 L706.51 402.99 L705.53 404.57 L704.56 406.15 L703.59 407.73 L702.62 409.31 L701.65 410.88 L700.67 412.46 L699.70 414.04 L698.59 415.62 L697.47 417.20 L696.36 418.77 L695.24 420.35 L694.13 421.93 L693.01 423.51 L691.90 425.09 L690.79 426.66 L689.67 428.24 L688.56 429.82 L687.44 431.40 L686.33 432.98 L685.21 434.55 L684.10 436.13 L682.98 437.71 L681.87 439.29 L680.75 440.87 L679.64 442.44 L678.53 444.02 L677.41 445.60 L676.38 447.18 L675.43 448.76 L674.48 450.33 L673.53 451.91 L672.58 453.49 L671.63 455.07 L670.68 456.65 L669.73 458.22 L668.78 459.80 L667.84 461.38 L666.89 462.96 L665.94 464.54 L664.99 466.11 L664.04 467.69 L663.09 469.27 L662.14 470.85 L661.19 472.43 L660.24 474.00 L659.29 475.58 L658.34 477.16 L657.39 478.74 L656.44 480.32 L655.49 481.89 L654.54 483.47 L653.59 485.05 L652.65 486.63 L651.70 488.21 L650.75 489.78 L649.80 491.36 L648.85 492.94 L648.55 494.52 L648.26 496.10 L647.96 497.67 L647.67 499.25 L647.37 500.83 L647.08 502.41 L646.78 503.99 L646.49 505.56 L646.19 507.14" stroke="#00ffff" stroke-width="11" fill="none" stroke-linejoin="round" stroke-linecap="round"/>
<path d="M800.64 18.54 L801.20 20.12 L801.75 21.70 L802.30 23.27 L802.86 24.85 L804.88 26.43 L806.91 28.01 L808.94 29.59 L810.96 31.16 L815.38 32.74 L819.81 34.32 L824.23 35.90 L828.65 37.48 L831.60 39.05 L834.55 40.63 L837.49 42.21 L840.44 43.79 L841.52 45.37 L842.60 46.94 L843.68 48.52 L844.77 50.10 L845.85 51.68 L846.93 53.26 L847.41 54.83 L847.89 56.41 L848.36 57.99 L848.84 59.57 L849.32 61.15 L849.80 62.72 L850.28 64.30 L850.76 65.88 L850.76 67.46 L850.76 69.04 L850.76 70.61 L850.76 72.19 L850.76 73.77 L850.76 75.35 L850.76 76.93 L850.76 78.50 L850.76 80.08 L850.76 81.66 L850.76 83.24 L850.76 84.82 L851.45 86.39 L852.82 87.97 L854.20 89.55 L855.58 91.13 L856.95 92.71 L858.33 94.28 L859.70 95.86 L861.08 97.44 L863.29 99.02 L865.50 100.60 L867.80 102.17 L870.10 103.75 L872.41 105.33 L874.71 106.91 L877.01 108.49 L879.31 110.06 L882.30 111.64 L889.18 113.22 L896.06 114.80 L902.94 116.38 L909.48 117.95 L912.95 119.53 L916.41 121.11 L919.88 122.69 L923.35 124.27 L926.82 125.84 L930.29 127.42 L932.81 129.00 L933.14 130.58 L933.46 132.16 L933.79 133.73 L934.11 135.31 L934.44 136.89 L934.76 138.47 L934.47 140.05 L933.55 141.62 L932.64 143.20 L931.72 144.78 L930.81 146.36 L929.89 147.94 L928.98 149.51 L928.06 151.09 L927.14 152.67 L926.23 154.25 L924.06 155.83 L921.89 157.40 L919.72 158.98 L917.55 160.56 L915.38 162.14 L913.21 163.72 L911.04 165.29 L908.87 166.87 L906.70 168.45 L904.53 170.03 L902.48 171.61 L900.89 173.18 L899.31 174.76 L897.73 176.34 L896.14 177.92 L894.56 179.50 L892.98 181.07 L891.39 182.65 L889.81 184.23 L888.23 185.81 L886.64 187.39 L885.06 188.96 L883.48 190.54 L881.89 192.12 L880.31 193.70 L878.73 195.28 L877.14 196.85 L875.87 198.43 L874.60 200.01 L873.33 201.59 L872.06 203.17 L870.79 204.74 L869.52 206.32 L868.25 207.90 L866.98 209.48 L865.71 211.06 L864.44 212.63 L863.17 214.21 L861.89 215.79 L860.62 217.37 L859.35 218.95 L858.08 220.52 L856.81 222.10 L855.54 223.68 L854.27 225.26 L853.00 226.84 L851.73 228.41 L850.46 229.99 L849.19 231.57 L847.92 233.15 L846.64 234.73 L845.37 236.30 L844.10 237.88 L842.83 239.46 L841.56 241.04 L840.29 242.62 L839.02 244.19 L837.75 245.77 L836.48 247.35 L835.21 248.93 L833.94 250.51 L832.67 252.08 L831.39 253.66 L830.12 255.24 L828.59 256.82 L827.06 258.40 L825.53 259.97 L823.99 261.55 L822.46 263.13 L820.93 264.71 L819.39 266.29 L817.86 267.86 L816.33 269.44 L814.79 271.02 L813.26 272.60 L811.73 274.18 L810.20 275.75 L808.66 277.33 L807.13 278.91 L805.60 280.49 L804.06 282.07 L802.53 283.64 L801.00 285.22 L799.46 286.80 L797.93 288.38 L796.40 289.96 L794.87 291.53 L793.33 293.11 L791.80 294.69 L790.27 296.27 L788.73 297.85 L787.20 299.42 L785.67 301.00 L784.14 302.58 L782.60 304.16 L781.07 305.74 L779.54 307.31 L778.00 308.89 L776.47 310.47 L774.94 312.05 L773.40 313.63 L771.87 315.20 L770.34 316.78 L768.81 318.36 L767.27 319.94 L765.74 321.52 L764.21 323.09 L762.67 324.67 L761.14 326.25 L759.61 327.83 L758.07 329.41 L756.54 330.98 L755.01 332.56 L753.48 334.14 L752.25 335.72 L751.03 337.30 L749.80 338.87 L748.58 340.45 L747.36 342.03 L746.13 343.61 L744.91 345.19 L743.69 346.76 L742.46 348.34 L741.24 349.92 L740.02 351.50 L738.79 353.08 L737.57 354.65 L736.34 356.23 L735.12 357.81 L733.90 359.39 L732.67 360.97 L731.45 362.54 L730.23 364.12 L729.00 365.70 L727.78 367.28 L726.55 368.86 L725.33 370.43 L724.11 372.01 L722.88 373.59 L721.66 375.17 L720.56 376.75 L719.59 378.32 L718.62 379.90 L717.65 381.48 L716.67 383.06 L715.70 384.64 L714.73 386.21 L713.76 387.79 L712.78 389.37 L711.81 390.95 L710.84 392.53 L709.87 394.10 L708.90 395.68 L707.92 397.26 L706.95 398.84 L705.98 400.42 L705.01 401.99 L704.03 403.57 L703.06 405.15 L702.09 406.73 L701.12 408.31 L700.15 409.88 L699.17 411.46 L698.20 413.04 L697.09 414.62 L695.97 416.20 L694.86 417.77 L693.74 419.35 L692.63 420.93 L691.51 422.51 L690.40 424.09 L689.29 425.66 L688.17 427.24 L687.06 428.82 L685.94 430.40 L684.83 431.98 L683.71 433.55 L682.60 435.13 L681.48 436.71 L680.37 438.29 L679.25 439.87 L678.14 441.44 L677.03 443.02 L675.91 444.60 L674.88 446.18 L673.93 447.76 L672.98 449.33 L672.03 450.91 L671.08 452.49 L670.13 454.07 L669.18 455.65 L668.23 457.22 L667.28 458.80 L666.34 460.38 L665.39 461.96 L664.44 463.54 L663.49 465.11 L662.54 466.69 L661.59 468.27 L660.64 469.85 L659.69 471.43 L658.74 473.00 L657.79 474.58 L656.84 476.16 L655.89 477.74 L654.94 479.32 L653.99 480.89 L653.04 482.47 L652.09 484.05 L651.15 485.63 L650.20 487.21 L649.25 488.78 L648.30 490.36 L647.35 491.94 L647.05 493.52 L646.76 495.10 L646.46 496.67 L646.17 498.25 L645.87 499.83 L645.58 501.41 L645.28 502.99 L644.99 504.56 L644.69 506.14 L644.40 507.72 L644.11 509.30 L643.81 510.88 L643.52 512.45 L643.22 514.03 L642.93 515.61 L642.63 517.19 L642.34 518.77 L642.04 520.34 L641.75 521.92 L641.45 523.50 L641.16 525.08 L640.86 526.66 L640.57 528.23 L640.27 529.81 L639.98 531.39 L639.57 532.97 L639.15 534.55 L638.74 536.12 L638.33 537.70 L637.91 539.28 L637.50 540.86 L637.09 542.44 L636.68 544.01 L636.26 545.59 L635.85 547.17 L635.44 548.75 L635.03 550.33 L634.61 551.90 L634.20 553.48 L633.79 555.06 L633.37 556.64 L632.96 558.22 L632.55 559.79 L632.14 561.37 L631.72 562.95 L631.31 564.53 L630.90 566.11 L630.49 567.68 L630.07 569.26 L629.66 570.84 L629.22 572.42 L628.78 574.00 L628.35 575.57 L627.91 577.15 L627.47 578.73 L627.03 580.31 L626.59 581.89 L626.16 583.46 L625.72 585.04 L625.28 586.62 L624.84 588.20 L624.40 589.78 L623.97 591.35 L623.53 592.93 L623.09 594.51 L622.65 596.09 L622.21 597.67 L622.01 599.24 L622.03 600.82 L622.05 602.40 L622.08 603.98 L622.10 605.56 L622.12 607.13 L622.15 608.71 L622.17 610.29 L622.20 611.87 L622.22 613.45 L622.24 615.02 L622.27 616.60 L622.29 618.18 L622.34 619.76 L622.40 621.34 L622.45 622.91 L622.50 624.49 L622.55 626.07 L622.61 627.65 L622.66 629.23 L622.71 630.80 L622.76 632.38 L622.82 633.96 L622.87 635.54 L622.92 637.12 L622.97 638.69 L623.03 640.27 L623.08 641.85 L623.13 643.43 L623.18 645.01 L623.24 646.58 L623.29 648.16 L623.34 649.74 L623.40 651.32 L623.45 652.90 L623.50 654.47 L623.55 656.05 L623.61 657.63 L623.66 659.21 L623.71 660.79 L623.76 662.36 L623.82 663.94 L623.87 665.52 L623.92 667.10 L623.97 668.68 L624.03 670.25 L624.08 671.83 L624.13 673.41 L624.19 674.99 L624.24 676.57 L624.29 678.14 L624.34 679.72 L624.40 681.30 L624.45 682.88 L624.50 684.46 L624.62 686.03 L624.73 687.61 L624.85 689.19 L624.96 690.77 L625.08 692.35 L625.20 693.92 L625.31 695.50 L625.43 697.08 L625.54 698.66 L625.66 700.24 L625.77 701.81 L625.89 703.39 L626.01 704.97 L626.12 706.55 L626.24 708.13 L626.35 709.70 L626.47 711.28 L626.59 712.86 L626.70 714.44 L626.82 716.02 L626.93 717.59 L627.05 719.17 L627.16 720.75 L627.28 722.33 L627.40 723.91 L627.51 725.48 L627.63 727.06 L627.74 728.64 L627.81 730.22 L627.88 731.80 L627.95 733.37 L628.02 734.95 L628.08 736.53 L628.15 738.11 L628.22 739.69 L628.29 741.26 L628.35 742.84 L628.42 744.42 L628.49 746.00 L628.56 747.58 L628.63 749.15 L628.69 750.73 L628.76 752.31 L628.83 753.89 L628.90 755.47 L628.96 757.04 L629.03 758.62 L629.10 760.20 L629.17 761.78 L629.24 763.36 L629.30 764.93 L629.37 766.51 L629.44 768.09 L629.51 769.67 L629.57 771.25 L629.64 772.82 L629.71 774.40 L629.78 775.98 L629.85 777.56 L629.91 779.14 L629.98 780.71 L630.05 782.29 L630.12 783.87 L630.18 785.45 L630.25 787.03 L630.32 788.60 L630.39 790.18 L630.46 791.76 L630.52 793.34 L630.59 794.92 L630.66 796.49 L630.73 798.07 L630.79 799.65 L630.86 801.23 L630.93 802.81 L631.00 804.38 L631.07 805.96 L631.13 807.54" stroke="#0000ff" stroke-width="10.5" fill="none" stroke-linejoin="round" stroke-linecap="round"/>
<path d="M884.66 117.16 L912.67 136.89" stroke="#ff0000" stroke-width="7" fill="none" stroke-linejoin="round" stroke-linecap="round"/>
<path d="M708.95 389.37 L689.36 413.04 L664.74 452.49 L640.13 491.94" stroke="#ff0000" stroke-width="7" fill="none" stroke-linejoin="round" stroke-linecap="round"/>
<path d="M823.49 18.54 L823.49 20.12 L823.49 21.70 L823.49 23.27 L823.49 24.85 L823.49 26.43 L823.49 28.01 L823.49 30.38 L823.49 34.32 L822.34 38.27 L821.19 42.21 L820.04 46.16 L821.07 50.10 L822.65 54.05 L824.23 57.99 L827.77 65.88 L834.25 73.77 L841.77 81.66 L855.77 89.55 L867.42 97.44 L883.48 117.16 L917.83 136.89 L911.34 176.34 L869.18 215.79 L831.30 255.24 L794.31 294.69 L756.87 334.14 L691.57 413.04 L642.34 491.94 L630.40 570.84 L629.37 649.74 L627.45 728.64 L630.40 807.54" stroke="#ff0000" stroke-width="3.0" fill="none" stroke-linejoin="round"/>
<circle cx="823.49" cy="18.54" r="6.0" fill="#ff0000"/><circle cx="823.49" cy="20.12" r="6.0" fill="#ff0000"/><circle cx="823.49" cy="21.70" r="6.0" fill="#ff0000"/><circle cx="823.49" cy="23.27" r="6.0" fill="#ff0000"/><circle cx="823.49" cy="24.85" r="6.0" fill="#ff0000"/><circle cx="823.49" cy="26.43" r="6.0" fill="#ff0000"/><circle cx="823.49" cy="28.01" r="6.0" fill="#ff0000"/><circle cx="823.49" cy="30.38" r="6.0" fill="#ff0000"/><circle cx="823.49" cy="34.32" r="6.0" fill="#ff0000"/><circle cx="822.34" cy="38.27" r="6.0" fill="#ff0000"/><circle cx="821.19" cy="42.21" r="6.0" fill="#ff0000"/><circle cx="820.04" cy="46.16" r="6.0" fill="#ff0000"/><circle cx="821.07" cy="50.10" r="6.0" fill="#ff0000"/><circle cx="822.65" cy="54.05" r="6.0" fill="#ff0000"/><circle cx="824.23" cy="57.99" r="6.0" fill="#ff0000"/><circle cx="827.77" cy="65.88" r="6.0" fill="#ff0000"/><circle cx="834.25" cy="73.77" r="6.0" fill="#ff0000"/><circle cx="841.77" cy="81.66" r="6.0" fill="#ff0000"/><circle cx="855.77" cy="89.55" r="6.0" fill="#ff0000"/><circle cx="867.42" cy="97.44" r="6.0" fill="#ff0000"/><circle cx="883.48" cy="117.16" r="6.0" fill="#ff0000"/><circle cx="917.83" cy="136.89" r="6.0" fill="#ff0000"/><circle cx="911.34" cy="176.34" r="6.0" fill="#ff0000"/><circle cx="869.18" cy="215.79" r="6.0" fill="#ff0000"/><circle cx="831.30" cy="255.24" r="6.0" fill="#ff0000"/><circle cx="794.31" cy="294.69" r="6.0" fill="#ff0000"/><circle cx="756.87" cy="334.14" r="6.0" fill="#ff0000"/><circle cx="691.57" cy="413.04" r="6.0" fill="#ff0000"/><circle cx="642.34" cy="491.94" r="6.0" fill="#ff0000"/><circle cx="630.40" cy="570.84" r="6.0" fill="#ff0000"/><circle cx="629.37" cy="649.74" r="6.0" fill="#ff0000"/><circle cx="627.45" cy="728.64" r="6.0" fill="#ff0000"/><circle cx="630.40" cy="807.54" r="6.0" fill="#ff0000"/>
<path d="M811.85 18.54 L812.97 20.12 L814.09 21.70 L815.21 23.27 L816.33 24.85 L817.45 26.43 L818.57 28.01 L820.25 30.38 L820.76 34.32 L821.28 38.27 L822.62 42.21 L823.96 46.16 L826.71 50.10 L829.81 54.05 L832.92 57.99 L839.37 65.88 L846.07 73.77 L854.60 81.66 L867.42 89.55 L877.14 97.44 L896.31 117.16 L899.55 136.89 L884.66 176.34 L852.38 215.79 L813.03 255.24 L762.32 294.69 L710.14 334.14 L698.64 413.04 L682.87 491.94 L646.17 570.84 L619.93 649.74 L619.93 728.64 L631.13 807.54" stroke="#008000" stroke-width="3.0" fill="none" stroke-linejoin="round"/>
<circle cx="811.85" cy="18.54" r="6.0" fill="#008000"/><circle cx="812.97" cy="20.12" r="6.0" fill="#008000"/><circle cx="814.09" cy="21.70" r="6.0" fill="#008000"/><circle cx="815.21" cy="23.27" r="6.0" fill="#008000"/><circle cx="816.33" cy="24.85" r="6.0" fill="#008000"/><circle cx="817.45" cy="26.43" r="6.0" fill="#008000"/><circle cx="818.57" cy="28.01" r="6.0" fill="#008000"/><circle cx="820.25" cy="30.38" r="6.0" fill="#008000"/><circle cx="820.76" cy="34.32" r="6.0" fill="#008000"/><circle cx="821.28" cy="38.27" r="6.0" fill="#008000"/><circle cx="822.62" cy="42.21" r="6.0" fill="#008000"/><circle cx="823.96" cy="46.16" r="6.0" fill="#008000"/><circle cx="826.71" cy="50.10" r="6.0" fill="#008000"/><circle cx="829.81" cy="54.05" r="6.0" fill="#008000"/><circle cx="832.92" cy="57.99" r="6.0" fill="#008000"/><circle cx="839.37" cy="65.88" r="6.0" fill="#008000"/><circle cx="846.07" cy="73.77" r="6.0" fill="#008000"/><circle cx="854.60" cy="81.66" r="6.0" fill="#008000"/><circle cx="867.42" cy="89.55" r="6.0" fill="#008000"/><circle cx="877.14" cy="97.44" r="6.0" fill="#008000"/><circle cx="896.31" cy="117.16" r="6.0" fill="#008000"/><circle cx="899.55" cy="136.89" r="6.0" fill="#008000"/><circle cx="884.66" cy="176.34" r="6.0" fill="#008000"/><circle cx="852.38" cy="215.79" r="6.0" fill="#008000"/><circle cx="813.03" cy="255.24" r="6.0" fill="#008000"/><circle cx="762.32" cy="294.69" r="6.0" fill="#008000"/><circle cx="710.14" cy="334.14" r="6.0" fill="#008000"/><circle cx="698.64" cy="413.04" r="6.0" fill="#008000"/><circle cx="682.87" cy="491.94" r="6.0" fill="#008000"/><circle cx="646.17" cy="570.84" r="6.0" fill="#008000"/><circle cx="619.93" cy="649.74" r="6.0" fill="#008000"/><circle cx="619.93" cy="728.64" r="6.0" fill="#008000"/><circle cx="631.13" cy="807.54" r="6.0" fill="#008000"/>
<path d="M835.73 18.93 L835.63 19.76 L835.52 20.63 L835.41 21.55 L835.28 22.55 L835.15 23.62 L835.01 24.80 L834.85 26.09 L834.68 27.53 L834.48 29.17 L834.25 31.01 L833.90 33.14 L833.49 35.58 L833.02 38.43 L832.46 41.77 L831.80 45.71 L833.42 50.37 L836.37 55.91 L840.91 62.53 L848.25 70.46 L859.90 79.96 L881.27 91.39 L906.03 105.12 L921.07 121.64 L923.13 141.51 L917.83 165.40 L895.27 194.08 L865.06 228.45 L826.44 269.54 L765.42 318.53 L713.97 376.70 L673.88 445.46 L649.85 526.32 L629.37 620.81 L627.45 730.49" stroke="#ff00ff" stroke-width="3.0" fill="none" stroke-linejoin="round"/>
<circle cx="835.73" cy="18.93" r="6.0" fill="#ff00ff"/><circle cx="835.63" cy="19.76" r="6.0" fill="#ff00ff"/><circle cx="835.52" cy="20.63" r="6.0" fill="#ff00ff"/><circle cx="835.41" cy="21.55" r="6.0" fill="#ff00ff"/><circle cx="835.28" cy="22.55" r="6.0" fill="#ff00ff"/><circle cx="835.15" cy="23.62" r="6.0" fill="#ff00ff"/><circle cx="835.01" cy="24.80" r="6.0" fill="#ff00ff"/><circle cx="834.85" cy="26.09" r="6.0" fill="#ff00ff"/><circle cx="834.68" cy="27.53" r="6.0" fill="#ff00ff"/><circle cx="834.48" cy="29.17" r="6.0" fill="#ff00ff"/><circle cx="834.25" cy="31.01" r="6.0" fill="#ff00ff"/><circle cx="833.90" cy="33.14" r="6.0" fill="#ff00ff"/><circle cx="833.49" cy="35.58" r="6.0" fill="#ff00ff"/><circle cx="833.02" cy="38.43" r="6.0" fill="#ff00ff"/><circle cx="832.46" cy="41.77" r="6.0" fill="#ff00ff"/><circle cx="831.80" cy="45.71" r="6.0" fill="#ff00ff"/><circle cx="833.42" cy="50.37" r="6.0" fill="#ff00ff"/><circle cx="836.37" cy="55.91" r="6.0" fill="#ff00ff"/><circle cx="840.91" cy="62.53" r="6.0" fill="#ff00ff"/><circle cx="848.25" cy="70.46" r="6.0" fill="#ff00ff"/><circle cx="859.90" cy="79.96" r="6.0" fill="#ff00ff"/><circle cx="881.27" cy="91.39" r="6.0" fill="#ff00ff"/><circle cx="906.03" cy="105.12" r="6.0" fill="#ff00ff"/><circle cx="921.07" cy="121.64" r="6.0" fill="#ff00ff"/><circle cx="923.13" cy="141.51" r="6.0" fill="#ff00ff"/><circle cx="917.83" cy="165.40" r="6.0" fill="#ff00ff"/><circle cx="895.27" cy="194.08" r="6.0" fill="#ff00ff"/><circle cx="865.06" cy="228.45" r="6.0" fill="#ff00ff"/><circle cx="826.44" cy="269.54" r="6.0" fill="#ff00ff"/><circle cx="765.42" cy="318.53" r="6.0" fill="#ff00ff"/><circle cx="713.97" cy="376.70" r="6.0" fill="#ff00ff"/><circle cx="673.88" cy="445.46" r="6.0" fill="#ff00ff"/><circle cx="649.85" cy="526.32" r="6.0" fill="#ff00ff"/><circle cx="629.37" cy="620.81" r="6.0" fill="#ff00ff"/><circle cx="627.45" cy="730.49" r="6.0" fill="#ff00ff"/>
</g>
<g clip-path="url(#clip2)">
<path d="M1088.71 19.54 L1088.93 21.12 L1089.15 22.70 L1089.37 24.27 L1089.59 25.85 L1089.82 27.43 L1091.12 29.01 L1092.43 30.59 L1093.74 32.16 L1095.04 33.74 L1096.35 35.32 L1097.66 36.90 L1098.96 38.48 L1100.27 40.05 L1101.58 41.63 L1102.88 43.21 L1104.19 44.79 L1105.49 46.37 L1106.80 47.94 L1108.11 49.52 L1109.42 51.10 L1110.72 52.68 L1112.03 54.26 L1113.34 55.83 L1114.44 57.41 L1115.55 58.99 L1116.65 60.57 L1117.76 62.15 L1118.86 63.72 L1119.97 65.30 L1121.07 66.88 L1122.18 68.46 L1123.28 70.04 L1124.39 71.61 L1125.49 73.19 L1126.60 74.77 L1127.70 76.35 L1128.81 77.93 L1130.10 79.50 L1131.48 81.08 L1132.86 82.66 L1134.24 84.24 L1135.61 85.82 L1136.99 87.39 L1138.37 88.97 L1139.95 90.55 L1141.74 92.13 L1143.52 93.71 L1145.31 95.28 L1147.09 96.86 L1148.88 98.44 L1150.66 100.02 L1152.16 101.60 L1153.38 103.17 L1154.60 104.75 L1155.81 106.33 L1157.03 107.91 L1158.25 109.49 L1159.46 111.06 L1160.97 112.64 L1163.37 114.22 L1165.77 115.80 L1168.17 117.38 L1170.57 118.95 L1173.68 120.53 L1177.52 122.11 L1182.46 123.69 L1191.84 125.27 L1201.22 126.84 L1208.36 128.42 L1210.30 130.00 L1212.23 131.58 L1214.17 133.16 L1216.10 134.73 L1218.03 136.31 L1219.91 137.89 L1221.75 139.47 L1223.59 141.05 L1225.42 142.62 L1227.26 144.20" stroke="#00ffff" stroke-width="11" fill="none" stroke-linejoin="round" stroke-linecap="round"/>
<path d="M1087.21 18.54 L1087.43 20.12 L1087.65 21.70 L1087.87 23.27 L1088.09 24.85 L1088.32 26.43 L1089.62 28.01 L1090.93 29.59 L1092.24 31.16 L1093.54 32.74 L1094.85 34.32 L1096.16 35.90 L1097.46 37.48 L1098.77 39.05 L1100.08 40.63 L1101.38 42.21 L1102.69 43.79 L1103.99 45.37 L1105.30 46.94 L1106.61 48.52 L1107.92 50.10 L1109.22 51.68 L1110.53 53.26 L1111.84 54.83 L1112.94 56.41 L1114.05 57.99 L1115.15 59.57 L1116.26 61.15 L1117.36 62.72 L1118.47 64.30 L1119.57 65.88 L1120.68 67.46 L1121.78 69.04 L1122.89 70.61 L1123.99 72.19 L1125.10 73.77 L1126.20 75.35 L1127.31 76.93 L1128.60 78.50 L1129.98 80.08 L1131.36 81.66 L1132.74 83.24 L1134.11 84.82 L1135.49 86.39 L1136.87 87.97 L1138.45 89.55 L1140.24 91.13 L1142.02 92.71 L1143.81 94.28 L1145.59 95.86 L1147.38 97.44 L1149.16 99.02 L1150.66 100.60 L1151.88 102.17 L1153.10 103.75 L1154.31 105.33 L1155.53 106.91 L1156.75 108.49 L1157.96 110.06 L1159.47 111.64 L1161.87 113.22 L1164.27 114.80 L1166.67 116.38 L1169.07 117.95 L1172.18 119.53 L1176.02 121.11 L1180.96 122.69 L1190.34 124.27 L1199.72 125.84 L1206.86 127.42 L1208.80 129.00 L1210.73 130.58 L1212.67 132.16 L1214.60 133.73 L1216.53 135.31 L1218.41 136.89 L1220.25 138.47 L1222.09 140.05 L1223.92 141.62 L1225.76 143.20 L1227.60 144.78 L1229.44 146.36 L1231.27 147.94 L1233.11 149.51 L1234.29 151.09 L1235.47 152.67 L1236.66 154.25 L1237.84 155.83 L1239.02 157.40 L1240.20 158.98 L1241.39 160.56 L1242.57 162.14 L1243.75 163.72 L1244.93 165.29 L1246.12 166.87 L1247.10 168.45 L1247.89 170.03 L1248.68 171.61 L1249.46 173.18 L1250.25 174.76 L1251.04 176.34 L1251.83 177.92 L1252.61 179.50 L1253.40 181.07 L1254.19 182.65 L1254.98 184.23 L1255.76 185.81 L1256.55 187.39 L1257.34 188.96 L1258.09 190.54 L1258.81 192.12 L1259.52 193.70 L1260.24 195.28 L1260.95 196.85 L1261.67 198.43 L1262.38 200.01 L1263.10 201.59 L1263.82 203.17 L1264.53 204.74 L1265.25 206.32 L1265.96 207.90 L1266.68 209.48 L1267.39 211.06 L1268.11 212.63 L1268.83 214.21 L1269.54 215.79 L1270.26 217.37 L1270.97 218.95 L1271.62 220.52 L1272.20 222.10 L1272.77 223.68 L1273.35 225.26 L1273.93 226.84 L1274.51 228.41 L1275.08 229.99 L1275.66 231.57 L1276.24 233.15 L1276.82 234.73 L1277.39 236.30 L1277.97 237.88 L1278.55 239.46 L1279.13 241.04 L1279.70 242.62 L1280.28 244.19 L1280.86 245.77 L1281.44 247.35 L1282.01 248.93 L1282.59 250.51 L1283.17 252.08 L1283.75 253.66 L1284.32 255.24 L1284.90 256.82 L1285.48 258.40 L1286.06 259.97 L1286.63 261.55 L1287.21 263.13 L1287.78 264.71 L1288.33 266.29 L1288.88 267.86 L1289.43 269.44 L1289.98 271.02 L1290.53 272.60 L1291.08 274.18 L1291.63 275.75 L1292.19 277.33 L1292.74 278.91 L1293.29 280.49 L1293.84 282.07 L1294.39 283.64 L1294.94 285.22 L1295.49 286.80 L1296.04 288.38 L1296.60 289.96 L1297.15 291.53 L1297.70 293.11 L1298.25 294.69 L1298.80 296.27 L1299.35 297.85 L1299.90 299.42 L1300.45 301.00 L1301.01 302.58 L1301.56 304.16 L1302.11 305.74 L1302.66 307.31 L1303.18 308.89 L1303.66 310.47 L1304.14 312.05 L1304.62 313.63 L1305.10 315.20 L1305.58 316.78 L1306.06 318.36 L1306.54 319.94 L1307.02 321.52 L1307.51 323.09 L1307.99 324.67 L1308.47 326.25 L1308.95 327.83 L1309.43 329.41 L1309.91 330.98 L1310.39 332.56 L1310.87 334.14 L1311.35 335.72 L1311.84 337.30 L1312.32 338.87 L1312.80 340.45 L1313.28 342.03 L1313.76 343.61 L1314.24 345.19 L1314.72 346.76 L1315.20 348.34 L1315.68 349.92 L1316.16 351.50 L1316.64 353.08 L1317.11 354.65 L1317.58 356.23 L1318.06 357.81 L1318.53 359.39 L1319.00 360.97 L1319.47 362.54 L1319.94 364.12 L1320.42 365.70 L1320.89 367.28 L1321.36 368.86 L1321.84 370.43 L1322.31 372.01 L1322.78 373.59 L1323.25 375.17 L1323.72 376.75 L1324.20 378.32 L1324.67 379.90 L1325.14 381.48 L1325.62 383.06 L1326.09 384.64 L1326.56 386.21 L1327.03 387.79 L1327.50 389.37 L1327.98 390.95 L1328.45 392.53 L1328.92 394.10 L1329.40 395.68 L1329.86 397.26 L1330.33 398.84 L1330.80 400.42 L1331.27 401.99 L1331.74 403.57 L1332.21 405.15 L1332.68 406.73 L1333.15 408.31 L1333.62 409.88 L1334.09 411.46 L1334.56 413.04 L1335.03 414.62 L1335.50 416.20 L1335.97 417.77 L1336.44 419.35 L1336.91 420.93 L1337.38 422.51 L1337.85 424.09 L1338.32 425.66 L1338.79 427.24 L1339.26 428.82 L1339.73 430.40 L1340.20 431.98 L1340.67 433.55 L1341.14 435.13 L1341.61 436.71 L1342.08 438.29 L1342.55 439.87 L1343.02 441.44 L1343.49 443.02 L1343.96 444.60 L1344.43 446.18 L1344.90 447.76 L1345.37 449.33 L1345.84 450.91 L1346.31 452.49 L1346.78 454.07 L1347.25 455.65 L1347.72 457.22 L1348.19 458.80 L1348.66 460.38 L1349.13 461.96 L1349.60 463.54 L1350.07 465.11 L1350.54 466.69 L1351.01 468.27 L1351.48 469.85 L1351.95 471.43 L1352.42 473.00 L1352.89 474.58 L1353.36 476.16 L1353.83 477.74 L1354.30 479.32 L1354.77 480.89 L1355.24 482.47 L1355.71 484.05 L1356.18 485.63 L1356.65 487.21 L1357.12 488.78 L1357.59 490.36 L1358.06 491.94 L1358.46 493.52 L1358.87 495.10 L1359.27 496.67 L1359.68 498.25 L1360.08 499.83 L1360.49 501.41 L1360.89 502.99 L1361.29 504.56 L1361.70 506.14 L1362.10 507.72 L1362.51 509.30 L1362.91 510.88 L1363.32 512.45 L1363.72 514.03 L1364.12 515.61 L1364.53 517.19 L1364.93 518.77 L1365.34 520.34 L1365.74 521.92 L1366.15 523.50 L1366.55 525.08 L1366.95 526.66 L1367.36 528.23 L1367.76 529.81 L1368.17 531.39 L1368.57 532.97 L1368.97 534.55 L1369.38 536.12 L1369.78 537.70 L1370.19 539.28 L1370.59 540.86 L1371.00 542.44 L1371.40 544.01 L1371.80 545.59 L1372.21 547.17 L1372.61 548.75 L1373.02 550.33 L1373.42 551.90 L1373.83 553.48 L1374.23 555.06 L1374.63 556.64 L1375.04 558.22 L1375.44 559.79 L1375.85 561.37 L1376.25 562.95 L1376.66 564.53 L1377.06 566.11 L1377.46 567.68 L1377.87 569.26 L1378.27 570.84 L1378.68 572.42 L1379.10 574.00 L1379.51 575.57 L1379.92 577.15 L1380.33 578.73 L1380.74 580.31 L1381.15 581.89 L1381.57 583.46 L1381.98 585.04 L1382.39 586.62 L1382.80 588.20 L1383.21 589.78 L1383.62 591.35 L1384.03 592.93 L1384.45 594.51 L1384.86 596.09 L1385.27 597.67 L1385.68 599.24 L1386.09 600.82 L1386.50 602.40 L1386.92 603.98 L1387.33 605.56 L1387.74 607.13 L1388.15 608.71 L1388.56 610.29 L1388.97 611.87 L1389.39 613.45 L1389.80 615.02 L1390.21 616.60 L1390.62 618.18 L1391.03 619.76 L1391.44 621.34 L1391.86 622.91 L1392.27 624.49 L1392.68 626.07 L1393.09 627.65 L1393.50 629.23 L1393.91 630.80 L1394.32 632.38 L1394.74 633.96 L1395.15 635.54 L1395.56 637.12 L1395.97 638.69 L1396.38 640.27 L1396.79 641.85 L1397.21 643.43 L1397.62 645.01 L1398.03 646.58 L1398.44 648.16 L1398.85 649.74 L1399.32 651.32 L1399.78 652.90 L1400.24 654.47 L1400.70 656.05 L1401.17 657.63 L1401.63 659.21 L1402.09 660.79 L1402.56 662.36 L1403.02 663.94 L1403.48 665.52 L1403.95 667.10 L1404.41 668.68 L1404.87 670.25 L1405.34 671.83 L1405.80 673.41 L1406.26 674.99 L1406.72 676.57 L1407.19 678.14 L1407.65 679.72 L1408.11 681.30 L1408.58 682.88 L1409.04 684.46 L1409.50 686.03 L1409.97 687.61 L1410.43 689.19 L1410.89 690.77 L1411.35 692.35 L1411.82 693.92 L1412.28 695.50 L1412.74 697.08 L1413.21 698.66 L1413.67 700.24 L1414.13 701.81 L1414.60 703.39 L1415.06 704.97 L1415.52 706.55 L1415.99 708.13 L1416.45 709.70 L1416.91 711.28 L1417.37 712.86 L1417.84 714.44 L1418.30 716.02 L1418.76 717.59 L1419.23 719.17 L1419.69 720.75 L1420.15 722.33 L1420.62 723.91 L1421.08 725.48 L1421.54 727.06 L1422.01 728.64 L1422.39 730.22 L1422.77 731.80 L1423.15 733.37 L1423.53 734.95 L1423.92 736.53 L1424.30 738.11 L1424.68 739.69 L1425.06 741.26 L1425.44 742.84 L1425.83 744.42 L1426.21 746.00 L1426.59 747.58 L1426.97 749.15 L1427.36 750.73 L1427.74 752.31 L1428.12 753.89 L1428.50 755.47 L1428.88 757.04 L1429.27 758.62 L1429.65 760.20 L1430.03 761.78 L1430.41 763.36 L1430.80 764.93 L1431.18 766.51 L1431.56 768.09 L1431.94 769.67 L1432.32 771.25 L1432.71 772.82 L1433.09 774.40 L1433.47 775.98 L1433.85 777.56 L1434.24 779.14 L1434.62 780.71 L1435.00 782.29 L1435.38 783.87 L1435.76 785.45 L1436.15 787.03 L1436.53 788.60 L1436.91 790.18 L1437.29 791.76 L1437.68 793.34 L1438.06 794.92 L1438.44 796.49 L1438.82 798.07 L1439.20 799.65 L1439.59 801.23 L1439.97 802.81 L1440.35 804.38 L1440.73 805.96 L1441.12 807.54" stroke="#0000ff" stroke-width="12" fill="none" stroke-linejoin="round" stroke-linecap="round"/>
<path d="M1103.38 18.54 L1104.14 20.12 L1104.90 21.70 L1105.66 23.27 L1106.42 24.85 L1107.18 26.43 L1107.94 28.01 L1109.08 30.38 L1110.98 34.32 L1112.88 38.27 L1114.77 42.21 L1117.23 46.16 L1119.67 50.10 L1122.12 54.05 L1124.58 57.99 L1129.48 65.88 L1132.60 73.77 L1135.72 81.66 L1146.44 89.55 L1157.16 97.44 L1178.35 117.16 L1212.53 136.89 L1249.28 176.34 L1268.39 215.79 L1283.09 255.24 L1296.69 294.69 L1308.81 334.14 L1332.70 413.04 L1358.43 491.94 L1379.01 570.84 L1401.79 649.74 L1422.74 728.64 L1442.59 807.54" stroke="#ff0000" stroke-width="3.0" fill="none" stroke-linejoin="round"/>
<circle cx="1103.38" cy="18.54" r="6.0" fill="#ff0000"/><circle cx="1104.14" cy="20.12" r="6.0" fill="#ff0000"/><circle cx="1104.90" cy="21.70" r="6.0" fill="#ff0000"/><circle cx="1105.66" cy="23.27" r="6.0" fill="#ff0000"/><circle cx="1106.42" cy="24.85" r="6.0" fill="#ff0000"/><circle cx="1107.18" cy="26.43" r="6.0" fill="#ff0000"/><circle cx="1107.94" cy="28.01" r="6.0" fill="#ff0000"/><circle cx="1109.08" cy="30.38" r="6.0" fill="#ff0000"/><circle cx="1110.98" cy="34.32" r="6.0" fill="#ff0000"/><circle cx="1112.88" cy="38.27" r="6.0" fill="#ff0000"/><circle cx="1114.77" cy="42.21" r="6.0" fill="#ff0000"/><circle cx="1117.23" cy="46.16" r="6.0" fill="#ff0000"/><circle cx="1119.67" cy="50.10" r="6.0" fill="#ff0000"/><circle cx="1122.12" cy="54.05" r="6.0" fill="#ff0000"/><circle cx="1124.58" cy="57.99" r="6.0" fill="#ff0000"/><circle cx="1129.48" cy="65.88" r="6.0" fill="#ff0000"/><circle cx="1132.60" cy="73.77" r="6.0" fill="#ff0000"/><circle cx="1135.72" cy="81.66" r="6.0" fill="#ff0000"/><circle cx="1146.44" cy="89.55" r="6.0" fill="#ff0000"/><circle cx="1157.16" cy="97.44" r="6.0" fill="#ff0000"/><circle cx="1178.35" cy="117.16" r="6.0" fill="#ff0000"/><circle cx="1212.53" cy="136.89" r="6.0" fill="#ff0000"/><circle cx="1249.28" cy="176.34" r="6.0" fill="#ff0000"/><circle cx="1268.39" cy="215.79" r="6.0" fill="#ff0000"/><circle cx="1283.09" cy="255.24" r="6.0" fill="#ff0000"/><circle cx="1296.69" cy="294.69" r="6.0" fill="#ff0000"/><circle cx="1308.81" cy="334.14" r="6.0" fill="#ff0000"/><circle cx="1332.70" cy="413.04" r="6.0" fill="#ff0000"/><circle cx="1358.43" cy="491.94" r="6.0" fill="#ff0000"/><circle cx="1379.01" cy="570.84" r="6.0" fill="#ff0000"/><circle cx="1401.79" cy="649.74" r="6.0" fill="#ff0000"/><circle cx="1422.74" cy="728.64" r="6.0" fill="#ff0000"/><circle cx="1442.59" cy="807.54" r="6.0" fill="#ff0000"/>
<path d="M1088.68 18.54 L1090.53 20.12 L1092.39 21.70 L1094.24 23.27 L1096.09 24.85 L1097.94 26.43 L1099.79 28.01 L1102.57 30.38 L1107.20 34.32 L1111.83 38.27 L1115.57 42.21 L1119.23 46.16 L1122.89 50.10 L1126.55 54.05 L1130.21 57.99 L1139.03 65.88 L1145.28 73.77 L1152.63 81.66 L1159.24 89.55 L1172.10 97.44 L1191.22 117.16 L1201.87 136.89 L1239.36 176.34 L1266.92 215.79 L1282.35 255.24 L1295.95 294.69 L1308.08 334.14 L1331.97 413.04 L1358.06 491.94 L1378.27 570.84 L1398.48 649.74 L1422.01 728.64 L1441.85 807.54" stroke="#008000" stroke-width="3.0" fill="none" stroke-linejoin="round"/>
<circle cx="1088.68" cy="18.54" r="6.0" fill="#008000"/><circle cx="1090.53" cy="20.12" r="6.0" fill="#008000"/><circle cx="1092.39" cy="21.70" r="6.0" fill="#008000"/><circle cx="1094.24" cy="23.27" r="6.0" fill="#008000"/><circle cx="1096.09" cy="24.85" r="6.0" fill="#008000"/><circle cx="1097.94" cy="26.43" r="6.0" fill="#008000"/><circle cx="1099.79" cy="28.01" r="6.0" fill="#008000"/><circle cx="1102.57" cy="30.38" r="6.0" fill="#008000"/><circle cx="1107.20" cy="34.32" r="6.0" fill="#008000"/><circle cx="1111.83" cy="38.27" r="6.0" fill="#008000"/><circle cx="1115.57" cy="42.21" r="6.0" fill="#008000"/><circle cx="1119.23" cy="46.16" r="6.0" fill="#008000"/><circle cx="1122.89" cy="50.10" r="6.0" fill="#008000"/><circle cx="1126.55" cy="54.05" r="6.0" fill="#008000"/><circle cx="1130.21" cy="57.99" r="6.0" fill="#008000"/><circle cx="1139.03" cy="65.88" r="6.0" fill="#008000"/><circle cx="1145.28" cy="73.77" r="6.0" fill="#008000"/><circle cx="1152.63" cy="81.66" r="6.0" fill="#008000"/><circle cx="1159.24" cy="89.55" r="6.0" fill="#008000"/><circle cx="1172.10" cy="97.44" r="6.0" fill="#008000"/><circle cx="1191.22" cy="117.16" r="6.0" fill="#008000"/><circle cx="1201.87" cy="136.89" r="6.0" fill="#008000"/><circle cx="1239.36" cy="176.34" r="6.0" fill="#008000"/><circle cx="1266.92" cy="215.79" r="6.0" fill="#008000"/><circle cx="1282.35" cy="255.24" r="6.0" fill="#008000"/><circle cx="1295.95" cy="294.69" r="6.0" fill="#008000"/><circle cx="1308.08" cy="334.14" r="6.0" fill="#008000"/><circle cx="1331.97" cy="413.04" r="6.0" fill="#008000"/><circle cx="1358.06" cy="491.94" r="6.0" fill="#008000"/><circle cx="1378.27" cy="570.84" r="6.0" fill="#008000"/><circle cx="1398.48" cy="649.74" r="6.0" fill="#008000"/><circle cx="1422.01" cy="728.64" r="6.0" fill="#008000"/><circle cx="1441.85" cy="807.54" r="6.0" fill="#008000"/>
<path d="M1099.34 18.93 L1099.61 19.76 L1099.89 20.63 L1100.19 21.55 L1100.51 22.55 L1100.86 23.62 L1101.24 24.80 L1101.66 26.09 L1102.13 27.53 L1102.66 29.17 L1103.26 31.01 L1103.95 33.14 L1104.74 35.58 L1105.67 38.43 L1106.75 41.77 L1108.44 45.71 L1112.53 50.37 L1117.41 55.91 L1123.23 62.53 L1130.10 70.46 L1140.87 79.96 L1155.94 91.39 L1177.25 105.12 L1200.03 121.64 L1222.45 141.51 L1240.46 165.40 L1257.73 194.08 L1270.96 228.45 L1286.40 269.54 L1304.41 318.53 L1322.78 376.70 L1343.36 445.46 L1365.41 526.32 L1391.13 620.81 L1423.11 730.49" stroke="#ff00ff" stroke-width="3.0" fill="none" stroke-linejoin="round"/>
<circle cx="1099.34" cy="18.93" r="6.0" fill="#ff00ff"/><circle cx="1099.61" cy="19.76" r="6.0" fill="#ff00ff"/><circle cx="1099.89" cy="20.63" r="6.0" fill="#ff00ff"/><circle cx="1100.19" cy="21.55" r="6.0" fill="#ff00ff"/><circle cx="1100.51" cy="22.55" r="6.0" fill="#ff00ff"/><circle cx="1100.86" cy="23.62" r="6.0" fill="#ff00ff"/><circle cx="1101.24" cy="24.80" r="6.0" fill="#ff00ff"/><circle cx="1101.66" cy="26.09" r="6.0" fill="#ff00ff"/><circle cx="1102.13" cy="27.53" r="6.0" fill="#ff00ff"/><circle cx="1102.66" cy="29.17" r="6.0" fill="#ff00ff"/><circle cx="1103.26" cy="31.01" r="6.0" fill="#ff00ff"/><circle cx="1103.95" cy="33.14" r="6.0" fill="#ff00ff"/><circle cx="1104.74" cy="35.58" r="6.0" fill="#ff00ff"/><circle cx="1105.67" cy="38.43" r="6.0" fill="#ff00ff"/><circle cx="1106.75" cy="41.77" r="6.0" fill="#ff00ff"/><circle cx="1108.44" cy="45.71" r="6.0" fill="#ff00ff"/><circle cx="1112.53" cy="50.37" r="6.0" fill="#ff00ff"/><circle cx="1117.41" cy="55.91" r="6.0" fill="#ff00ff"/><circle cx="1123.23" cy="62.53" r="6.0" fill="#ff00ff"/><circle cx="1130.10" cy="70.46" r="6.0" fill="#ff00ff"/><circle cx="1140.87" cy="79.96" r="6.0" fill="#ff00ff"/><circle cx="1155.94" cy="91.39" r="6.0" fill="#ff00ff"/><circle cx="1177.25" cy="105.12" r="6.0" fill="#ff00ff"/><circle cx="1200.03" cy="121.64" r="6.0" fill="#ff00ff"/><circle cx="1222.45" cy="141.51" r="6.0" fill="#ff00ff"/><circle cx="1240.46" cy="165.40" r="6.0" fill="#ff00ff"/><circle cx="1257.73" cy="194.08" r="6.0" fill="#ff00ff"/><circle cx="1270.96" cy="228.45" r="6.0" fill="#ff00ff"/><circle cx="1286.40" cy="269.54" r="6.0" fill="#ff00ff"/><circle cx="1304.41" cy="318.53" r="6.0" fill="#ff00ff"/><circle cx="1322.78" cy="376.70" r="6.0" fill="#ff00ff"/><circle cx="1343.36" cy="445.46" r="6.0" fill="#ff00ff"/><circle cx="1365.41" cy="526.32" r="6.0" fill="#ff00ff"/><circle cx="1391.13" cy="620.81" r="6.0" fill="#ff00ff"/><circle cx="1423.11" cy="730.49" r="6.0" fill="#ff00ff"/>
</g>
<rect x="99.45" y="19.48" width="393.11" height="795.00" fill="none" stroke="#000" stroke-width="1.39" stroke-linejoin="miter"/>
<path d="M93.37 18.54H99.45 M93.37 97.44H99.45 M93.37 176.34H99.45 M93.37 255.24H99.45 M93.37 334.14H99.45 M93.37 413.04H99.45 M93.37 491.94H99.45 M93.37 570.84H99.45 M93.37 649.74H99.45 M93.37 728.64H99.45 M93.37 807.54H99.45 M107.50 814.48V820.56 M183.05 814.48V820.56 M258.60 814.48V820.56 M334.15 814.48V820.56 M409.70 814.48V820.56 M485.25 814.48V820.56" stroke="#000" stroke-width="1.39" fill="none"/>
<text x="107.50" y="842.00" font-size="18.40" font-weight="normal" font-style="normal" text-anchor="middle" textLength="11.05" lengthAdjust="spacingAndGlyphs" fill="#000">5</text>
<text x="183.05" y="842.00" font-size="18.40" font-weight="normal" font-style="normal" text-anchor="middle" textLength="22.09" lengthAdjust="spacingAndGlyphs" fill="#000">10</text>
<text x="258.60" y="842.00" font-size="18.40" font-weight="normal" font-style="normal" text-anchor="middle" textLength="22.09" lengthAdjust="spacingAndGlyphs" fill="#000">15</text>
<text x="334.15" y="842.00" font-size="18.40" font-weight="normal" font-style="normal" text-anchor="middle" textLength="22.09" lengthAdjust="spacingAndGlyphs" fill="#000">20</text>
<text x="409.70" y="842.00" font-size="18.40" font-weight="normal" font-style="normal" text-anchor="middle" textLength="22.09" lengthAdjust="spacingAndGlyphs" fill="#000">25</text>
<text x="485.25" y="842.00" font-size="18.40" font-weight="normal" font-style="normal" text-anchor="middle" textLength="22.09" lengthAdjust="spacingAndGlyphs" fill="#000">30</text>
<rect x="583.45" y="19.48" width="394.00" height="795.00" fill="none" stroke="#000" stroke-width="1.39" stroke-linejoin="miter"/>
<path d="M577.37 18.54H583.45 M577.37 97.44H583.45 M577.37 176.34H583.45 M577.37 255.24H583.45 M577.37 334.14H583.45 M577.37 413.04H583.45 M577.37 491.94H583.45 M577.37 570.84H583.45 M577.37 649.74H583.45 M577.37 728.64H583.45 M577.37 807.54H583.45 M644.40 814.48V820.56 M718.10 814.48V820.56 M791.80 814.48V820.56 M865.50 814.48V820.56 M939.20 814.48V820.56" stroke="#000" stroke-width="1.39" fill="none"/>
<text x="644.40" y="842.00" font-size="18.40" font-weight="normal" font-style="normal" text-anchor="middle" textLength="38.66" lengthAdjust="spacingAndGlyphs" fill="#000">35.0</text>
<text x="718.10" y="842.00" font-size="18.40" font-weight="normal" font-style="normal" text-anchor="middle" textLength="38.66" lengthAdjust="spacingAndGlyphs" fill="#000">35.5</text>
<text x="791.80" y="842.00" font-size="18.40" font-weight="normal" font-style="normal" text-anchor="middle" textLength="38.66" lengthAdjust="spacingAndGlyphs" fill="#000">36.0</text>
<text x="865.50" y="842.00" font-size="18.40" font-weight="normal" font-style="normal" text-anchor="middle" textLength="38.66" lengthAdjust="spacingAndGlyphs" fill="#000">36.5</text>
<text x="939.20" y="842.00" font-size="18.40" font-weight="normal" font-style="normal" text-anchor="middle" textLength="38.66" lengthAdjust="spacingAndGlyphs" fill="#000">37.0</text>
<rect x="1067.45" y="19.48" width="394.05" height="795.00" fill="none" stroke="#000" stroke-width="1.39" stroke-linejoin="miter"/>
<path d="M1061.37 18.54H1067.45 M1061.37 97.44H1067.45 M1061.37 176.34H1067.45 M1061.37 255.24H1067.45 M1061.37 334.14H1067.45 M1061.37 413.04H1067.45 M1061.37 491.94H1067.45 M1061.37 570.84H1067.45 M1061.37 649.74H1067.45 M1061.37 728.64H1067.45 M1061.37 807.54H1067.45 M1140.50 814.48V820.56 M1214.00 814.48V820.56 M1287.50 814.48V820.56 M1361.00 814.48V820.56 M1434.50 814.48V820.56" stroke="#000" stroke-width="1.39" fill="none"/>
<text x="1143.47" y="854.47" font-size="18.40" font-weight="normal" font-style="normal" text-anchor="middle" textLength="44.18" lengthAdjust="spacingAndGlyphs" fill="#000" transform="rotate(-45 1143.47 854.47)">1024</text>
<text x="1216.97" y="854.47" font-size="18.40" font-weight="normal" font-style="normal" text-anchor="middle" textLength="44.18" lengthAdjust="spacingAndGlyphs" fill="#000" transform="rotate(-45 1216.97 854.47)">1026</text>
<text x="1290.47" y="854.47" font-size="18.40" font-weight="normal" font-style="normal" text-anchor="middle" textLength="44.18" lengthAdjust="spacingAndGlyphs" fill="#000" transform="rotate(-45 1290.47 854.47)">1028</text>
<text x="1363.97" y="854.47" font-size="18.40" font-weight="normal" font-style="normal" text-anchor="middle" textLength="44.18" lengthAdjust="spacingAndGlyphs" fill="#000" transform="rotate(-45 1363.97 854.47)">1030</text>
<text x="1437.47" y="854.47" font-size="18.40" font-weight="normal" font-style="normal" text-anchor="middle" textLength="44.18" lengthAdjust="spacingAndGlyphs" fill="#000" transform="rotate(-45 1437.47 854.47)">1032</text>
<text x="85.90" y="26.54" font-size="18.40" font-weight="normal" font-style="normal" text-anchor="end" textLength="11.05" lengthAdjust="spacingAndGlyphs" fill="#000">0</text>
<text x="85.90" y="105.44" font-size="18.40" font-weight="normal" font-style="normal" text-anchor="end" textLength="33.14" lengthAdjust="spacingAndGlyphs" fill="#000">100</text>
<text x="85.90" y="184.34" font-size="18.40" font-weight="normal" font-style="normal" text-anchor="end" textLength="33.14" lengthAdjust="spacingAndGlyphs" fill="#000">200</text>
<text x="85.90" y="263.24" font-size="18.40" font-weight="normal" font-style="normal" text-anchor="end" textLength="33.14" lengthAdjust="spacingAndGlyphs" fill="#000">300</text>
<text x="85.90" y="342.14" font-size="18.40" font-weight="normal" font-style="normal" text-anchor="end" textLength="33.14" lengthAdjust="spacingAndGlyphs" fill="#000">400</text>
<text x="85.90" y="421.04" font-size="18.40" font-weight="normal" font-style="normal" text-anchor="end" textLength="33.14" lengthAdjust="spacingAndGlyphs" fill="#000">500</text>
<text x="85.90" y="499.94" font-size="18.40" font-weight="normal" font-style="normal" text-anchor="end" textLength="33.14" lengthAdjust="spacingAndGlyphs" fill="#000">600</text>
<text x="85.90" y="578.84" font-size="18.40" font-weight="normal" font-style="normal" text-anchor="end" textLength="33.14" lengthAdjust="spacingAndGlyphs" fill="#000">700</text>
<text x="85.90" y="657.74" font-size="18.40" font-weight="normal" font-style="normal" text-anchor="end" textLength="33.14" lengthAdjust="spacingAndGlyphs" fill="#000">800</text>
<text x="85.90" y="736.64" font-size="18.40" font-weight="normal" font-style="normal" text-anchor="end" textLength="33.14" lengthAdjust="spacingAndGlyphs" fill="#000">900</text>
<text x="85.90" y="815.54" font-size="18.40" font-weight="normal" font-style="normal" text-anchor="end" textLength="44.18" lengthAdjust="spacingAndGlyphs" fill="#000">1000</text>
<text x="29.20" y="418.30" font-size="23.91" font-weight="bold" font-style="normal" text-anchor="middle" textLength="129.06" lengthAdjust="spacingAndGlyphs" fill="#000" transform="rotate(-90 29.20 418.30)">Depth (m)</text>
<text x="780.30" y="869.80" font-size="23.91" font-weight="bold" font-style="normal" text-anchor="middle" textLength="96.26" lengthAdjust="spacingAndGlyphs" fill="#000">Salinity</text>
<text x="1263.80" y="895.80" font-size="23.91" font-weight="bold" font-style="normal" text-anchor="middle" textLength="212.88" lengthAdjust="spacingAndGlyphs" fill="#000">Density (kg m-3)</text>
<text x="186.0" y="871.9" font-size="23.91" font-weight="bold" textLength="180.51" lengthAdjust="spacingAndGlyphs">Temperature (</text>
<text x="369.60" y="863.6" font-size="16.74" font-style="italic" textLength="9.67" lengthAdjust="spacingAndGlyphs">o</text>
<text x="379.60" y="871.9" font-size="23.91" font-style="italic" textLength="15.76" lengthAdjust="spacingAndGlyphs">C</text>
<text x="395.60" y="871.9" font-size="23.91" font-weight="bold" textLength="10.31" lengthAdjust="spacingAndGlyphs">)</text>
<text x="338.00" y="918.20" font-size="18.40" font-weight="normal" font-style="italic" text-anchor="start" textLength="903.05" lengthAdjust="spacingAndGlyphs" fill="#000" xml:space="preserve">Ocean Heat Content (kJ/cm^2) - Glider: 126.2363,  RTOFS: 91.9373,  ESPC: 71.9785,  CMEMS: 96.7521,</text>
<text x="1512.00" y="36.40" font-size="23.91" font-weight="bold" font-style="normal" text-anchor="start" textLength="380.01" lengthAdjust="spacingAndGlyphs" fill="#000">Comparison Date: 2025-08-11</text>
<text x="1512.00" y="89.46" font-size="23.91" font-weight="bold" font-style="normal" text-anchor="start" textLength="170.18" lengthAdjust="spacingAndGlyphs" fill="#000">Glider: sg651</text>
<text x="1512.00" y="115.99" font-size="23.91" font-weight="bold" font-style="normal" text-anchor="start" textLength="128.97" lengthAdjust="spacingAndGlyphs" fill="#000">Profiles: 4</text>
<text x="1512.00" y="142.52" font-size="23.91" font-weight="bold" font-style="normal" text-anchor="start" textLength="339.89" lengthAdjust="spacingAndGlyphs" fill="#000">First: 2025-08-11 11:25:27</text>
<text x="1512.00" y="169.05" font-size="23.91" font-weight="bold" font-style="normal" text-anchor="start" textLength="335.21" lengthAdjust="spacingAndGlyphs" fill="#000">Last: 2025-08-11 18:55:47</text>
<text x="1512.00" y="195.58" font-size="23.91" font-weight="bold" font-style="normal" text-anchor="start" textLength="339.57" lengthAdjust="spacingAndGlyphs" fill="#000">Method: Nearest-Neighbor</text>
<defs><clipPath id="mapclip"><rect x="1551.00" y="261.40" width="394.30" height="310.80"/></clipPath></defs>
<rect x="1551.00" y="261.40" width="394.30" height="310.80" fill="#97b6e1"/>
<g clip-path="url(#mapclip)">
<rect x="1545" y="255" width="410" height="325" fill="#d2b48c"/>
<path d="M1760.1 575.0 L1761.0 570.1 L1762.8 558.2 L1765.5 548.2 L1767.3 537.3 L1767.3 530.9 L1771.0 523.7 L1778.3 516.4 L1781.9 508.2 L1780.1 501.8 L1774.6 500.0 L1768.2 502.7 L1754.6 500.0 L1741.0 503.6 L1727.3 506.4 L1718.2 509.1 L1712.7 512.7 L1710.9 521.8 L1710.0 532.8 L1707.3 537.3 L1706.4 544.6 L1700.0 550.0 L1694.0 553.8 L1681.8 558.1 L1671.4 559.8 L1661.0 562.4 L1647.1 565.9 L1636.7 568.5 L1624.6 559.0 L1612.4 556.4 L1603.8 546.8 L1598.6 534.7 L1589.9 522.5 L1583.0 512.1 L1577.8 498.3 L1574.3 487.9 L1573.4 479.2 L1574.3 458.4 L1575.2 441.0 L1578.5 433.0 L1580.6 430.0 L1583.6 421.3 L1585.9 413.0 L1585.3 402.4 L1583.0 390.7 L1583.6 382.4 L1588.3 370.6 L1595.3 363.6 L1607.1 355.3 L1620.1 348.9 L1635.4 336.5 L1648.3 333.0 L1657.2 330.9 L1664.7 332.7 L1671.5 335.0 L1677.5 335.7 L1679.7 332.7 L1685.0 330.9 L1688.7 334.2 L1696.2 335.7 L1695.5 341.7 L1702.2 346.2 L1711.2 345.5 L1718.7 342.5 L1724.7 339.5 L1730.0 344.0 L1731.5 349.2 L1737.5 347.0 L1739.0 342.5 L1734.5 341.0 L1737.5 336.5 L1742.0 327.5 L1735.2 323.0 L1731.5 320.0 L1741.2 317.7 L1751.0 319.2 L1759.6 321.7 L1769.3 320.2 L1780.8 319.3 L1791.4 320.2 L1800.1 325.1 L1805.9 329.9 L1812.7 334.7 L1819.4 330.8 L1827.1 325.1 L1832.9 325.1 L1841.6 331.8 L1849.3 343.4 L1855.1 348.2 L1856.0 357.8 L1854.1 365.5 L1853.2 370.0 L1857.2 378.0 L1861.2 386.1 L1865.3 394.1 L1867.7 402.1 L1874.1 411.7 L1883.7 418.2 L1886.1 426.2 L1892.5 431.0 L1899.8 427.8 L1904.6 419.8 L1906.2 406.1 L1907.4 394.1 L1905.4 386.1 L1901.4 378.0 L1898.2 370.0 L1895.7 362.1 L1892.2 355.1 L1885.7 335.0 L1883.1 323.5 L1881.0 310.7 L1882.3 301.2 L1887.4 289.2 L1893.4 280.7 L1901.1 273.8 L1908.8 268.7 L1916.5 261.8 L1917.0 255.0 L1955.0 255.0 L1955.0 580.0 L1760.0 580.0Z" fill="#97b6e1" stroke="#000" stroke-width="1.8" stroke-linejoin="round"/>
<path d="M1575.2 441.0 L1575.9 439.4 L1576.5 437.8 L1577.2 436.2 L1577.8 434.6 L1578.5 433.0 L1579.5 431.5 L1580.6 430.0 L1581.1 428.6 L1581.6 427.1 L1582.1 425.6 L1582.6 424.2 L1583.1 422.8 L1583.6 421.3 L1584.1 419.6 L1584.5 418.0 L1585.0 416.3 L1585.4 414.7 L1585.9 413.0 L1585.8 411.5 L1585.7 410.0 L1585.6 408.5 L1585.6 406.9 L1585.5 405.4 L1585.4 403.9 L1585.3 402.4 L1585.0 400.7 L1584.6 399.1 L1584.3 397.4 L1584.0 395.7 L1583.7 394.0 L1583.3 392.4 L1583.0 390.7 L1583.1 389.0 L1583.2 387.4 L1583.4 385.7 L1583.5 384.1 L1583.6 382.4 L1584.2 380.9 L1584.8 379.4 L1585.4 378.0 L1585.9 376.5 L1586.5 375.0 L1587.1 373.6 L1587.7 372.1 L1588.3 370.6 L1589.5 369.4 L1590.6 368.3 L1591.8 367.1 L1593.0 365.9 L1594.1 364.8 L1595.3 363.6 L1596.6 362.7 L1597.9 361.8 L1599.2 360.8 L1600.5 359.9 L1601.9 359.0 L1603.2 358.1 L1604.5 357.1 L1605.8 356.2 L1607.1 355.3 L1608.5 354.6 L1610.0 353.9 L1611.4 353.2 L1612.9 352.5 L1614.3 351.7 L1615.8 351.0 L1617.2 350.3 L1618.7 349.6 L1620.1 348.9 L1621.3 347.9 L1622.5 347.0 L1623.6 346.0 L1624.8 345.1 L1626.0 344.1 L1627.2 343.2 L1628.3 342.2 L1629.5 341.3 L1630.7 340.3 L1631.9 339.4 L1633.0 338.4 L1634.2 337.5 L1635.4 336.5 L1637.0 336.1 L1638.6 335.6 L1640.2 335.2 L1641.8 334.8 L1643.5 334.3 L1645.1 333.9 L1646.7 333.4 L1648.3 333.0 L1647.7 330.9 L1646.0 330.9 L1644.4 331.4 L1642.8 332.0 L1641.3 332.7 L1639.5 332.6 L1638.1 333.6 L1636.4 334.3 L1634.6 334.9 L1633.1 335.7 L1632.1 337.2 L1630.7 337.9 L1629.4 338.7 L1628.1 339.6 L1626.8 340.3 L1625.2 340.7 L1624.0 341.7 L1622.7 342.5 L1621.6 343.5 L1620.5 344.6 L1619.7 345.7 L1618.5 346.4 L1617.2 347.0 L1615.7 347.3 L1614.3 348.1 L1612.8 348.7 L1611.5 349.6 L1610.2 350.7 L1608.6 351.1 L1607.1 351.9 L1605.5 352.5 L1604.1 353.5 L1602.8 354.7 L1601.6 355.8 L1600.5 357.0 L1599.2 357.9 L1597.9 359.0 L1596.6 359.9 L1595.0 360.6 L1593.5 361.5 L1592.3 362.8 L1590.8 363.8 L1589.4 364.7 L1588.5 366.1 L1587.1 367.5 L1585.8 368.9 L1585.1 370.7 L1584.5 372.5 L1584.0 374.0 L1583.2 375.4 L1582.9 377.0 L1582.5 378.6 L1581.6 380.1 L1581.2 381.9 L1581.4 383.8 L1581.4 385.6 L1581.2 387.2 L1581.3 389.0 L1580.9 390.8 L1580.9 392.7 L1581.1 394.5 L1581.3 396.2 L1581.6 397.9 L1582.3 399.5 L1583.0 401.1 L1583.2 402.7 L1583.3 404.1 L1583.5 405.5 L1583.0 407.1 L1582.9 408.6 L1582.8 410.1 L1582.8 411.4 L1582.5 412.6 L1582.6 414.1 L1582.4 415.6 L1581.7 417.2 L1581.7 418.9 L1581.6 420.7 L1581.2 422.1 L1580.5 423.5 L1580.5 425.1 L1580.0 426.5 L1579.5 427.9 L1578.9 429.1 L1577.8 430.6 L1576.7 432.0 L1575.9 433.7 L1575.2 435.4 L1574.5 437.0 L1574.0 438.6 L1573.1 440.1Z" fill="#000" stroke="#000" stroke-width="0.6" stroke-linejoin="round"/>
<path d="M1679.7 332.7 L1681.5 332.1 L1683.2 331.5 L1685.0 330.9 L1686.2 332.0 L1687.5 333.1 L1688.7 334.2 L1690.2 334.5 L1691.7 334.8 L1693.2 335.1 L1694.7 335.4 L1696.2 335.7 L1696.4 334.9 L1694.9 334.6 L1693.4 334.1 L1691.9 333.6 L1690.6 333.4 L1689.3 333.1 L1688.2 332.0 L1686.8 330.9 L1685.2 329.7 L1683.1 330.1 L1681.0 330.7 L1679.2 331.2Z" fill="#000" stroke="#000" stroke-width="0.6" stroke-linejoin="round"/>
<path d="M1696.2 335.7 L1696.0 337.2 L1695.8 338.7 L1695.7 340.2 L1695.5 341.7 L1696.8 342.6 L1698.2 343.5 L1699.5 344.4 L1700.9 345.3 L1702.2 346.2 L1703.7 346.1 L1705.2 346.0 L1706.7 345.9 L1708.2 345.7 L1709.7 345.6 L1711.2 345.5 L1712.7 344.9 L1714.2 344.3 L1715.7 343.7 L1717.2 343.1 L1718.7 342.5 L1720.2 341.8 L1721.7 341.0 L1723.2 340.2 L1724.7 339.5 L1726.0 340.6 L1727.3 341.8 L1728.7 342.9 L1730.0 344.0 L1730.5 345.7 L1731.0 347.5 L1731.5 349.2 L1733.0 348.6 L1734.5 348.1 L1736.0 347.6 L1737.5 347.0 L1738.0 345.5 L1738.5 344.0 L1739.0 342.5 L1737.1 341.9 L1736.6 343.4 L1736.3 344.5 L1735.9 345.4 L1734.6 345.4 L1733.7 345.9 L1733.0 346.2 L1732.7 347.1 L1732.8 346.3 L1731.9 345.1 L1731.3 343.1 L1729.9 341.8 L1728.4 340.5 L1726.7 339.1 L1724.9 337.8 L1722.9 338.6 L1720.9 339.3 L1719.4 340.1 L1717.9 340.7 L1716.4 341.1 L1714.7 341.3 L1713.2 341.8 L1711.7 341.9 L1710.4 342.1 L1709.2 342.4 L1708.0 342.6 L1706.5 342.8 L1705.0 343.1 L1704.0 343.4 L1703.1 343.0 L1702.2 342.4 L1701.2 341.9 L1699.9 341.0 L1698.7 340.9 L1697.5 340.8 L1697.8 339.9 L1698.1 339.0 L1698.2 337.5 L1698.7 336.0Z" fill="#000" stroke="#000" stroke-width="0.6" stroke-linejoin="round"/>
<path d="M1739.0 342.5 L1737.5 342.0 L1736.0 341.5 L1734.5 341.0 L1735.5 339.5 L1736.5 338.0 L1737.5 336.5 L1738.2 335.0 L1739.0 333.5 L1739.8 332.0 L1740.5 330.5 L1741.2 329.0 L1742.0 327.5 L1740.6 326.6 L1739.3 325.7 L1737.9 324.8 L1736.6 323.9 L1735.2 323.0 L1734.0 322.0 L1732.7 321.0 L1731.5 320.0 L1730.2 321.5 L1731.4 322.7 L1732.7 323.7 L1734.0 324.6 L1735.4 325.5 L1737.0 326.2 L1738.4 327.0 L1739.3 327.7 L1740.4 327.9 L1739.7 328.7 L1738.9 329.7 L1738.2 331.2 L1737.7 332.8 L1736.9 334.3 L1736.2 335.8 L1735.3 337.3 L1734.1 339.1 L1732.9 341.4 L1734.7 343.0 L1736.8 344.0 L1738.3 344.7Z" fill="#000" stroke="#000" stroke-width="0.6" stroke-linejoin="round"/>
<path d="M1741.2 317.7 L1742.8 317.9 L1744.5 318.2 L1746.1 318.4 L1747.7 318.7 L1749.4 318.9 L1751.0 319.2 L1752.7 319.7 L1754.4 320.2 L1756.2 320.7 L1757.9 321.2 L1759.6 321.7 L1761.2 321.4 L1762.8 321.2 L1764.4 320.9 L1766.1 320.7 L1767.7 320.4 L1769.3 320.2 L1770.9 320.1 L1772.6 319.9 L1774.2 319.8 L1775.9 319.7 L1777.5 319.6 L1779.2 319.4 L1780.8 319.3 L1782.3 319.4 L1783.8 319.6 L1785.3 319.7 L1786.9 319.8 L1788.4 319.9 L1789.9 320.1 L1791.4 320.2 L1791.5 319.2 L1790.0 319.1 L1788.5 319.0 L1786.9 318.9 L1785.4 318.6 L1783.9 318.3 L1782.4 318.0 L1780.8 317.8 L1779.1 317.8 L1777.4 318.0 L1775.8 318.3 L1774.1 318.6 L1772.5 318.8 L1770.9 319.2 L1769.2 319.4 L1767.6 319.6 L1765.9 319.8 L1764.3 319.9 L1762.6 320.0 L1761.2 320.1 L1759.7 320.3 L1758.2 319.6 L1756.6 319.1 L1754.9 318.8 L1753.1 318.4 L1751.3 317.9 L1749.6 317.7 L1747.9 317.5 L1746.3 317.2 L1744.7 317.0 L1743.0 316.8 L1741.4 316.6Z" fill="#000" stroke="#000" stroke-width="0.6" stroke-linejoin="round"/>
<path d="M1791.4 320.2 L1792.9 321.0 L1794.3 321.8 L1795.8 322.6 L1797.2 323.5 L1798.6 324.3 L1800.1 325.1 L1801.3 326.1 L1802.4 327.0 L1803.6 328.0 L1804.7 328.9 L1805.9 329.9 L1807.3 330.9 L1808.6 331.8 L1810.0 332.8 L1811.3 333.7 L1812.7 334.7 L1814.0 333.9 L1815.4 333.1 L1816.7 332.4 L1818.1 331.6 L1819.4 330.8 L1818.7 329.6 L1817.2 330.2 L1815.9 331.0 L1814.5 331.7 L1813.6 332.0 L1812.8 332.7 L1812.0 332.1 L1811.1 331.2 L1809.7 330.3 L1808.2 329.5 L1806.9 328.6 L1805.9 327.5 L1804.7 326.6 L1803.7 325.5 L1802.4 324.6 L1801.2 323.6 L1799.6 322.7 L1798.0 322.0 L1796.6 321.1 L1795.3 320.1 L1793.8 319.3 L1792.4 318.4Z" fill="#000" stroke="#000" stroke-width="0.6" stroke-linejoin="round"/>
<path d="M1841.6 331.8 L1842.5 333.1 L1843.3 334.4 L1844.2 335.7 L1845.0 337.0 L1845.9 338.2 L1846.7 339.5 L1847.6 340.8 L1848.4 342.1 L1849.3 343.4 L1850.5 344.4 L1851.6 345.3 L1852.8 346.3 L1853.9 347.2 L1855.1 348.2 L1855.2 349.8 L1855.4 351.4 L1855.5 353.0 L1855.7 354.6 L1855.8 356.2 L1856.0 357.8 L1855.6 359.3 L1855.2 360.9 L1854.9 362.4 L1854.5 364.0 L1854.1 365.5 L1853.8 367.0 L1853.5 368.5 L1853.2 370.0 L1854.0 371.6 L1854.8 373.2 L1855.6 374.8 L1856.4 376.4 L1857.2 378.0 L1859.3 376.9 L1858.7 375.3 L1857.8 373.7 L1857.0 372.1 L1856.1 370.9 L1855.6 369.6 L1855.6 368.5 L1855.7 367.4 L1855.9 365.9 L1856.4 364.4 L1856.5 362.8 L1857.0 361.3 L1857.3 359.6 L1857.7 357.9 L1857.6 356.2 L1857.8 354.4 L1857.7 352.8 L1857.9 351.2 L1857.8 349.1 L1857.4 347.0 L1855.9 345.6 L1854.3 344.4 L1852.9 343.8 L1851.9 342.9 L1850.7 342.2 L1849.8 341.1 L1849.4 339.6 L1848.8 338.1 L1847.8 337.0 L1847.1 335.6 L1846.4 334.2 L1845.2 333.1 L1844.2 331.9 L1843.6 330.5Z" fill="#000" stroke="#000" stroke-width="0.6" stroke-linejoin="round"/>
<path d="M1857.2 378.0 L1857.9 379.4 L1858.5 380.7 L1859.2 382.1 L1859.9 383.4 L1860.5 384.8 L1861.2 386.1 L1862.0 387.7 L1862.8 389.3 L1863.7 390.9 L1864.5 392.5 L1865.3 394.1 L1865.8 395.7 L1866.3 397.3 L1866.7 398.9 L1867.2 400.5 L1867.7 402.1 L1868.6 403.5 L1869.5 404.8 L1870.4 406.2 L1871.4 407.6 L1872.3 409.0 L1873.2 410.3 L1874.1 411.7 L1875.5 412.6 L1876.8 413.6 L1878.2 414.5 L1879.6 415.4 L1881.0 416.3 L1882.3 417.3 L1883.7 418.2 L1884.2 419.8 L1884.7 421.4 L1885.1 423.0 L1885.6 424.6 L1886.1 426.2 L1887.4 427.2 L1888.7 428.1 L1889.9 429.1 L1891.2 430.0 L1892.5 431.0 L1894.7 428.1 L1893.3 427.2 L1891.9 426.4 L1891.0 425.0 L1890.2 424.5 L1889.2 424.1 L1889.2 422.9 L1889.1 421.8 L1888.3 420.3 L1887.4 418.2 L1886.6 416.1 L1884.6 414.9 L1882.8 413.6 L1881.5 412.7 L1880.1 411.7 L1878.8 410.7 L1877.8 409.8 L1876.7 409.1 L1876.0 408.1 L1875.4 406.8 L1874.2 405.7 L1873.0 404.5 L1872.1 403.1 L1871.0 402.1 L1870.2 400.9 L1870.0 399.4 L1869.8 398.0 L1869.1 396.4 L1868.9 394.6 L1868.3 392.9 L1867.4 391.2 L1866.3 389.5 L1865.8 387.8 L1864.6 386.4 L1863.5 384.9 L1862.8 383.6 L1862.1 382.3 L1861.2 381.0 L1860.9 379.5 L1860.3 378.1 L1859.6 376.8Z" fill="#000" stroke="#000" stroke-width="0.6" stroke-linejoin="round"/>
<path d="M1892.5 431.0 L1894.0 430.4 L1895.4 429.7 L1896.9 429.1 L1898.3 428.4 L1899.8 427.8 L1900.6 426.5 L1901.4 425.1 L1902.2 423.8 L1903.0 422.5 L1903.8 421.1 L1904.6 419.8 L1904.8 418.3 L1905.0 416.8 L1905.1 415.2 L1905.3 413.7 L1905.5 412.2 L1905.7 410.7 L1905.8 409.1 L1906.0 407.6 L1906.2 406.1 L1906.4 404.6 L1906.5 403.1 L1906.7 401.6 L1906.8 400.1 L1907.0 398.6 L1907.1 397.1 L1907.2 395.6 L1907.4 394.1 L1907.0 392.5 L1906.6 390.9 L1906.2 389.3 L1905.8 387.7 L1905.4 386.1 L1904.7 384.8 L1904.1 383.4 L1903.4 382.1 L1902.7 380.7 L1902.1 379.4 L1901.4 378.0 L1900.8 376.4 L1900.1 374.8 L1899.5 373.2 L1898.8 371.6 L1898.2 370.0 L1897.7 368.4 L1897.2 366.8 L1896.7 365.3 L1896.2 363.7 L1895.7 362.1 L1895.0 360.7 L1894.3 359.3 L1893.6 357.9 L1892.9 356.5 L1892.2 355.1 L1891.2 355.6 L1891.8 357.1 L1892.5 358.5 L1893.1 359.9 L1893.8 361.2 L1894.4 362.6 L1894.9 364.1 L1895.3 365.7 L1895.9 367.3 L1896.4 368.9 L1896.9 370.5 L1897.6 372.1 L1898.4 373.6 L1899.0 375.2 L1899.7 376.9 L1900.2 378.5 L1900.9 379.9 L1901.4 381.3 L1902.1 382.7 L1902.7 384.1 L1903.4 385.3 L1904.1 386.6 L1904.7 388.0 L1905.0 389.6 L1905.4 391.2 L1905.9 392.7 L1906.2 394.2 L1906.0 395.6 L1905.9 397.0 L1905.8 398.5 L1905.5 400.0 L1905.4 401.5 L1905.3 403.0 L1905.0 404.5 L1904.8 405.9 L1904.6 407.5 L1904.4 409.0 L1904.1 410.5 L1904.1 412.0 L1903.9 413.5 L1903.6 415.1 L1903.5 416.6 L1903.4 418.0 L1903.2 419.3 L1902.6 420.6 L1901.8 421.8 L1900.9 423.0 L1900.1 424.4 L1899.6 425.6 L1898.9 426.8 L1897.7 427.4 L1896.4 428.0 L1895.0 428.7 L1893.5 429.4 L1892.1 430.0Z" fill="#000" stroke="#000" stroke-width="0.6" stroke-linejoin="round"/>
<path d="M1883.1 323.5 L1882.8 321.9 L1882.6 320.3 L1882.3 318.7 L1882.0 317.1 L1881.8 315.5 L1881.5 313.9 L1881.3 312.3 L1881.0 310.7 L1881.2 309.1 L1881.4 307.5 L1881.7 305.9 L1881.9 304.4 L1882.1 302.8 L1882.3 301.2 L1882.9 299.7 L1883.6 298.2 L1884.2 296.7 L1884.8 295.2 L1885.5 293.7 L1886.1 292.2 L1886.8 290.7 L1887.4 289.2 L1888.4 287.8 L1889.4 286.4 L1890.4 284.9 L1891.4 283.5 L1892.4 282.1 L1893.4 280.7 L1894.7 279.6 L1896.0 278.4 L1897.2 277.2 L1898.5 276.1 L1899.8 274.9 L1901.1 273.8 L1902.4 272.9 L1903.7 272.1 L1904.9 271.2 L1906.2 270.4 L1907.5 269.6 L1908.8 268.7 L1910.1 267.6 L1911.4 266.4 L1912.7 265.2 L1913.9 264.1 L1915.2 262.9 L1916.5 261.8 L1914.6 259.7 L1913.3 260.8 L1912.1 262.1 L1911.0 263.4 L1909.5 264.4 L1908.5 265.7 L1907.4 266.9 L1906.1 267.5 L1904.9 268.4 L1903.6 269.2 L1902.3 270.1 L1901.1 271.1 L1899.8 272.1 L1898.2 273.1 L1897.2 274.6 L1896.0 275.9 L1894.8 277.1 L1893.5 278.4 L1892.4 279.8 L1891.1 281.1 L1890.1 282.6 L1888.7 283.8 L1887.8 285.2 L1886.7 286.7 L1885.7 288.3 L1885.2 289.9 L1884.8 291.6 L1884.2 293.2 L1883.6 294.7 L1882.8 296.1 L1882.2 297.6 L1881.4 299.2 L1880.3 300.7 L1879.9 302.3 L1879.8 304.1 L1879.4 305.6 L1878.9 307.2 L1879.1 309.0 L1878.7 310.7 L1879.1 312.5 L1879.2 314.3 L1879.6 315.9 L1879.4 317.5 L1880.1 319.1 L1880.2 320.7 L1880.6 322.3 L1880.9 323.9Z" fill="#000" stroke="#000" stroke-width="0.6" stroke-linejoin="round"/>
<path d="M1712.7 512.7 L1712.4 514.2 L1712.1 515.7 L1711.8 517.2 L1711.5 518.8 L1711.2 520.3 L1710.9 521.8 L1710.8 523.4 L1710.6 524.9 L1710.5 526.5 L1710.4 528.1 L1710.3 529.7 L1710.1 531.2 L1710.0 532.8 L1710.8 532.9 L1710.8 531.3 L1710.9 529.7 L1710.9 528.1 L1711.1 526.6 L1711.1 525.0 L1711.2 523.4 L1711.3 521.9 L1711.7 520.4 L1711.9 518.8 L1712.3 517.3 L1712.6 515.8 L1713.0 514.3 L1713.3 512.8Z" fill="#000" stroke="#000" stroke-width="0.6" stroke-linejoin="round"/>
<path d="M1774.6 500.0 L1776.4 500.6 L1778.3 501.2 L1780.1 501.8 L1780.5 503.4 L1781.0 505.0 L1781.5 506.6 L1781.9 508.2 L1781.2 509.8 L1780.5 511.5 L1779.7 513.1 L1779.0 514.8 L1778.3 516.4 L1779.1 516.8 L1779.9 515.1 L1780.7 513.5 L1781.5 512.0 L1782.2 510.1 L1783.0 508.3 L1782.4 506.5 L1781.8 504.8 L1781.1 503.1 L1780.6 501.3 L1778.6 500.6 L1776.6 500.0 L1774.8 499.4Z" fill="#000" stroke="#000" stroke-width="0.6" stroke-linejoin="round"/>
<path d="M1814.0 494.4 L1822.9 491.1 L1823.7 483.9 L1834.1 475.9 L1846.1 471.9 L1862.2 468.3 L1878.3 469.1 L1890.3 466.2 L1902.4 469.5 L1914.4 475.9 L1922.4 479.1 L1938.5 481.5 L1950.0 483.1 L1950.0 524.1 L1938.5 518.5 L1933.7 508.0 L1930.5 500.0 L1922.4 500.8 L1906.4 496.8 L1898.4 492.0 L1886.3 491.1 L1874.3 489.5 L1867.8 484.7 L1875.9 483.1 L1874.3 479.1 L1856.6 478.3 L1848.6 483.9 L1842.1 488.7 L1831.7 490.3 L1830.1 494.4 L1822.0 497.6Z" fill="#d2b48c" stroke="#000" stroke-width="2.4" stroke-linejoin="round"/>
<path d="M1890.3 466.2 L1902.4 469.5 L1914.4 475.9 L1922.4 479.1 L1938.5 481.5 L1950 483.1 L1950 489 L1938 486 L1922 484 L1913 480 L1901 473.5 L1889 470" fill="#000"/>
<path d="M1867.8 484.7 L1875.9 483.1 L1874.3 479.1 L1856.6 478.3 L1850 482 L1858 480.5 L1870 481" fill="none" stroke="#000" stroke-width="1.2"/>
<ellipse cx="1854.6" cy="498.8" rx="3.6" ry="4.2" fill="#d2b48c" stroke="#000" stroke-width="2.0"/>
<path d="M1858 499 L1866 500.5 L1874 500 L1882 498.5" fill="none" stroke="#000" stroke-width="1.8" stroke-linecap="round"/>
<path d="M1839 492.5 L1845 494" fill="none" stroke="#000" stroke-width="1.5" stroke-linecap="round"/>
<path d="M1917.6 509.6 L1930 516 L1942.5 521.7" fill="none" stroke="#000" stroke-width="3.0" stroke-linecap="round"/>
<path d="M1900 458.2 L1900.5 458.5 M1911.2 455 L1916.8 463" fill="none" stroke="#000" stroke-width="1.4" stroke-linecap="round"/>
<path d="M1742 329 Q1743 337 1738 341" fill="none" stroke="#000" stroke-width="2.2" stroke-linecap="round"/>
<ellipse cx="1778.3" cy="523.7" rx="3.3" ry="1.9" transform="rotate(-45 1778.3 523.7)" fill="#97b6e1" stroke="#000" stroke-width="1.4"/>
<path d="M1756.2 554.2 L1750 562.5 L1754 565.5 L1756 572 M1756.2 554.2 L1757.5 560 L1754 565.5" fill="none" stroke="#000" stroke-width="2.2" stroke-linejoin="round"/>
<path d="M1946 424 L1942 429 L1936.5 437.5 L1941 441 L1946 444 Z" fill="#d2b48c" stroke="#000" stroke-width="1.5"/>
<path d="M1926 396.5 L1932 392.5 L1938 393.5 L1946 391 L1946 396 L1936 398.5 Z" fill="#d2b48c" stroke="#000" stroke-width="1.5"/>
<path d="M1937 388 L1942 391 M1929 393 L1932 390" fill="none" stroke="#000" stroke-width="1.4"/>
<path d="M1920.5 416.5 L1921.5 421 L1923 426" fill="none" stroke="#000" stroke-width="1.5" stroke-linecap="round"/>
<path d="M1946 565 L1941 565.5 L1940 568 L1946 569.5 Z" fill="#d2b48c" stroke="#000" stroke-width="1.4"/>
<path d="M1881.5 545 L1886.5 545.5 M1906 538.5 L1912 537" fill="none" stroke="#000" stroke-width="2.4" stroke-linecap="round"/>
<path d="M1866 440.6 L1872 439.5 L1878 438 L1884.5 436.6" fill="none" stroke="#000" stroke-width="3.2" stroke-linecap="round"/>
<path d="M1886 436 L1894 432 L1902.2 426.2" fill="none" stroke="#000" stroke-width="1.8" stroke-linecap="round"/>
<circle cx="1853.2" cy="439" r="1.0" fill="#333"/>
<path d="M1712 322.5 L1716 318 L1722.5 318.5 L1723 323 L1719 325.8 L1713.5 325.5 Z" fill="#97b6e1" stroke="#000" stroke-width="1.4"/>
<path d="M1755.8 320.5 L1756.5 311 L1758.5 310 L1759.6 320.5 Z" fill="#97b6e1" stroke="#000" stroke-width="1.3"/>
<path d="M1682 557.5 L1690 555.5 L1697 556 L1696 561.5 L1688 563.5 Z" fill="#97b6e1" stroke="#000" stroke-width="1.4"/>
<path d="M1891.5 386 L1895.8 391 L1892 396.5 L1887.7 391 Z" fill="#b5b5b5"/>
<path d="M1647.5 331.0 L1650.0 324.0 L1651.5 314.0 L1653.5 303.5 L1649.5 292.0 L1647.5 283.0 L1645.5 273.0 L1644.5 261.0" fill="none" stroke="#000" stroke-width="1.2" stroke-linejoin="round"/>
<path d="M1727.0 318.5 L1724.0 311.0 L1724.7 305.0 L1723.0 304.5 L1688.7 304.5 L1689.5 297.0 L1694.0 290.0 L1701.0 278.0 L1699.2 266.7 L1699.2 261.0" fill="none" stroke="#000" stroke-width="1.2" stroke-linejoin="round"/>
<path d="M1749.5 261.0 L1750.2 318.5" fill="none" stroke="#000" stroke-width="1.2" stroke-linejoin="round"/>
<path d="M1767.8 317.3 L1767.5 312.0 L1764.5 307.5 L1764.5 304.3 L1812.7 304.3 L1811.7 296.0 L1812.4 284.0 L1815.0 277.1 L1809.8 261.0" fill="none" stroke="#000" stroke-width="1.2" stroke-linejoin="round"/>
<path d="M1812.7 304.3 L1816.5 310.6 L1865.7 314.5 L1866.6 317.8 L1869.5 311.6 L1879.7 310.7" fill="none" stroke="#000" stroke-width="1.2" stroke-linejoin="round"/>
<path d="M1891.7 281.5 L1887.4 279.8 L1884.0 273.0 L1880.5 266.0 L1878.8 261.0" fill="none" stroke="#000" stroke-width="1.2" stroke-linejoin="round"/>
<path d="M1560.4 261.5 L1565.6 264.9 L1576.0 274.5 L1577.8 278.8 L1584.7 291.0 L1595.1 310.0 L1603.8 318.7 L1604.8 322.0 L1607.1 333.0 L1614.2 337.7 L1616.5 347.0 L1620.1 348.9" fill="none" stroke="#97b6e1" stroke-width="1.5" stroke-linejoin="round"/>
<path d="M1688.7 305.7 L1692.0 309.5 L1696.5 314.7 L1699.0 321.5 L1706.0 326.0 L1715.0 326.7 L1721.7 329.0 L1720.5 332.0 L1724.0 336.5 L1732.2 344.0" fill="none" stroke="#97b6e1" stroke-width="1.5" stroke-linejoin="round"/>
<path d="M1757.5 311.0 L1760.0 300.0 L1763.9 287.5 L1769.1 280.6 L1776.0 274.5 L1788.2 273.6 L1790.0 267.5 L1785.6 261.0" fill="none" stroke="#97b6e1" stroke-width="1.5" stroke-linejoin="round"/>
<path d="M1815.5 311.6 L1811.7 324.1 L1813.6 331.8" fill="none" stroke="#97b6e1" stroke-width="1.5" stroke-linejoin="round"/>
<path d="M1550.0 495.7 L1558.0 493.0 L1566.0 490.0 L1573.4 487.9" fill="none" stroke="#97b6e1" stroke-width="1.5" stroke-linejoin="round"/>
<path d="M1669.7 559.8 L1671.4 565.9 L1680.0 573.0" fill="none" stroke="#97b6e1" stroke-width="1.5" stroke-linejoin="round"/>
<path d="M1550.0 405.5 L1560.0 406.0 L1571.8 410.1 L1583.6 412.5" fill="none" stroke="#97b6e1" stroke-width="1.5" stroke-linejoin="round"/>
<path d="M1550 405.5 L1560 406 L1571.8 410.1 L1583.6 412.5 M1743.5 569.6 L1747.6 565.1" fill="none" stroke="#000" stroke-width="1.2" stroke-dasharray="4 1.8"/>
<path d="M1693.5 489.5 L1694 490 M1724 481 L1725 482 M1677.5 513.5 L1678 514.5 M1683 528.5 L1683.5 529" fill="none" stroke="#333" stroke-width="1.3" stroke-linecap="round"/>
<circle cx="1780.6" cy="559.4" r="4.5" fill="#ff0000" stroke="#000" stroke-width="1.5"/>
</g>
<path d="M1551.00 572.20V261.40H1916.5" fill="none" stroke="#c4c8cf" stroke-width="1"/>
<path d="M1916.5 261.40H1945.30V572.20H1551.00" fill="none" stroke="#000" stroke-width="1.4"/>
<path d="M1551.00 252.80V261.40M1551.00 572.20V580.80 M1607.33 252.80V261.40M1607.33 572.20V580.80 M1663.66 252.80V261.40M1663.66 572.20V580.80 M1719.99 252.80V261.40M1719.99 572.20V580.80 M1776.31 252.80V261.40M1776.31 572.20V580.80 M1832.64 252.80V261.40M1832.64 572.20V580.80 M1888.97 252.80V261.40M1888.97 572.20V580.80 M1945.30 252.80V261.40M1945.30 572.20V580.80 M1542.40 572.20H1551.00M1945.30 572.20H1953.90 M1542.40 512.92H1551.00M1945.30 512.92H1953.90 M1542.40 452.44H1551.00M1945.30 452.44H1953.90 M1542.40 390.53H1551.00M1945.30 390.53H1953.90 M1542.40 326.94H1551.00M1945.30 326.94H1953.90 M1542.40 261.40H1551.00M1945.30 261.40H1953.90" stroke="#000" stroke-width="3.0" fill="none"/>
<path d="M1569.78 258.40V261.40M1569.78 572.20V575.20 M1588.55 258.40V261.40M1588.55 572.20V575.20 M1626.10 258.40V261.40M1626.10 572.20V575.20 M1644.88 258.40V261.40M1644.88 572.20V575.20 M1682.43 258.40V261.40M1682.43 572.20V575.20 M1701.21 258.40V261.40M1701.21 572.20V575.20 M1738.76 258.40V261.40M1738.76 572.20V575.20 M1757.54 258.40V261.40M1757.54 572.20V575.20 M1795.09 258.40V261.40M1795.09 572.20V575.20 M1813.87 258.40V261.40M1813.87 572.20V575.20 M1851.42 258.40V261.40M1851.42 572.20V575.20 M1870.20 258.40V261.40M1870.20 572.20V575.20 M1907.75 258.40V261.40M1907.75 572.20V575.20 M1926.52 258.40V261.40M1926.52 572.20V575.20 M1548.00 552.56H1551.00M1945.30 552.56H1948.30 M1548.00 532.80H1551.00M1945.30 532.80H1948.30 M1548.00 492.90H1551.00M1945.30 492.90H1948.30 M1548.00 472.75H1551.00M1945.30 472.75H1948.30 M1548.00 431.97H1551.00M1945.30 431.97H1948.30 M1548.00 411.34H1551.00M1945.30 411.34H1948.30 M1548.00 369.53H1551.00M1945.30 369.53H1948.30 M1548.00 348.34H1551.00M1945.30 348.34H1948.30 M1548.00 305.33H1551.00M1945.30 305.33H1948.30 M1548.00 283.48H1551.00M1945.30 283.48H1948.30" stroke="#000" stroke-width="2.0" fill="none"/>
<text x="1535.50" y="582.20" font-size="23.91" font-weight="normal" font-style="normal" text-anchor="end" textLength="56.89" lengthAdjust="spacingAndGlyphs" fill="#000">18°N</text>
<text x="1535.50" y="522.92" font-size="23.91" font-weight="normal" font-style="normal" text-anchor="end" textLength="56.89" lengthAdjust="spacingAndGlyphs" fill="#000">21°N</text>
<text x="1535.50" y="462.44" font-size="23.91" font-weight="normal" font-style="normal" text-anchor="end" textLength="56.89" lengthAdjust="spacingAndGlyphs" fill="#000">24°N</text>
<text x="1535.50" y="400.53" font-size="23.91" font-weight="normal" font-style="normal" text-anchor="end" textLength="56.89" lengthAdjust="spacingAndGlyphs" fill="#000">27°N</text>
<text x="1535.50" y="336.94" font-size="23.91" font-weight="normal" font-style="normal" text-anchor="end" textLength="56.89" lengthAdjust="spacingAndGlyphs" fill="#000">30°N</text>
<text x="1535.50" y="271.40" font-size="23.91" font-weight="normal" font-style="normal" text-anchor="end" textLength="56.89" lengthAdjust="spacingAndGlyphs" fill="#000">33°N</text>
<text x="1555.32" y="623.32" font-size="23.91" font-weight="normal" font-style="normal" text-anchor="middle" textLength="62.32" lengthAdjust="spacingAndGlyphs" fill="#000" transform="rotate(-45 1555.32 623.32)">99°W</text>
<text x="1611.65" y="623.32" font-size="23.91" font-weight="normal" font-style="normal" text-anchor="middle" textLength="62.32" lengthAdjust="spacingAndGlyphs" fill="#000" transform="rotate(-45 1611.65 623.32)">96°W</text>
<text x="1667.98" y="623.32" font-size="23.91" font-weight="normal" font-style="normal" text-anchor="middle" textLength="62.32" lengthAdjust="spacingAndGlyphs" fill="#000" transform="rotate(-45 1667.98 623.32)">93°W</text>
<text x="1724.31" y="623.32" font-size="23.91" font-weight="normal" font-style="normal" text-anchor="middle" textLength="62.32" lengthAdjust="spacingAndGlyphs" fill="#000" transform="rotate(-45 1724.31 623.32)">90°W</text>
<text x="1780.64" y="623.32" font-size="23.91" font-weight="normal" font-style="normal" text-anchor="middle" textLength="62.32" lengthAdjust="spacingAndGlyphs" fill="#000" transform="rotate(-45 1780.64 623.32)">87°W</text>
<text x="1836.97" y="623.32" font-size="23.91" font-weight="normal" font-style="normal" text-anchor="middle" textLength="62.32" lengthAdjust="spacingAndGlyphs" fill="#000" transform="rotate(-45 1836.97 623.32)">84°W</text>
<text x="1893.30" y="623.32" font-size="23.91" font-weight="normal" font-style="normal" text-anchor="middle" textLength="62.32" lengthAdjust="spacingAndGlyphs" fill="#000" transform="rotate(-45 1893.30 623.32)">81°W</text>
<text x="1949.62" y="623.32" font-size="23.91" font-weight="normal" font-style="normal" text-anchor="middle" textLength="62.32" lengthAdjust="spacingAndGlyphs" fill="#000" transform="rotate(-45 1949.62 623.32)">78°W</text>
<rect x="1666.0" y="656.0" width="165.0" height="144.0" rx="3.5" ry="3.5" fill="#fff" fill-opacity="0.8" stroke="#d0d0d0" stroke-width="1.39"/>
<line x1="1674.00" y1="675.40" x2="1722.00" y2="675.40" stroke="#0000ff" stroke-width="3.0"/>
<circle cx="1697.8" cy="675.40" r="5.9" fill="#0000ff"/>
<text x="1737.00" y="683.70" font-size="23.91" font-weight="normal" font-style="normal" text-anchor="start" textLength="69.16" lengthAdjust="spacingAndGlyphs" fill="#000">sg651</text>
<line x1="1674.00" y1="709.70" x2="1722.00" y2="709.70" stroke="#ff0000" stroke-width="3.0"/>
<circle cx="1697.8" cy="709.70" r="5.9" fill="#ff0000"/>
<text x="1737.00" y="718.00" font-size="23.91" font-weight="normal" font-style="normal" text-anchor="start" textLength="72.50" lengthAdjust="spacingAndGlyphs" fill="#000">RTOFS</text>
<line x1="1674.00" y1="744.00" x2="1722.00" y2="744.00" stroke="#008000" stroke-width="3.0"/>
<circle cx="1697.8" cy="744.00" r="5.9" fill="#008000"/>
<text x="1737.00" y="752.30" font-size="23.91" font-weight="normal" font-style="normal" text-anchor="start" textLength="57.96" lengthAdjust="spacingAndGlyphs" fill="#000">ESPC</text>
<line x1="1674.00" y1="778.30" x2="1722.00" y2="778.30" stroke="#ff00ff" stroke-width="3.0"/>
<circle cx="1697.8" cy="778.30" r="5.9" fill="#ff00ff"/>
<text x="1737.00" y="786.60" font-size="23.91" font-weight="normal" font-style="normal" text-anchor="start" textLength="83.29" lengthAdjust="spacingAndGlyphs" fill="#000">CMEMS</text>
</svg></body></html>
